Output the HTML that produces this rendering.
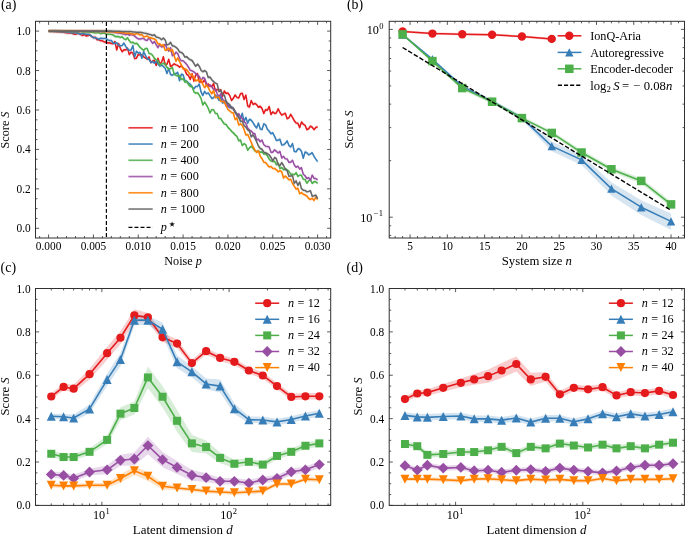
<!DOCTYPE html><html><head><meta charset="utf-8"><style>html,body{margin:0;padding:0;background:#fff;}svg{display:block;will-change:transform;}text{font-family:"Liberation Serif",serif;}</style></head><body><svg width="685" height="534" viewBox="0 0 685 534" font-family="Liberation Serif, serif" fill="#000">
<rect width="685" height="534" fill="#fff"/>
<polygon points="48.6,29.13 50.39,29.18 52.19,29.26 53.98,29.45 55.77,29.47 57.57,29.64 59.36,29.83 61.15,29.89 62.95,30.05 64.74,30.59 66.53,30.8 68.33,30.93 70.12,30.76 71.91,31.02 73.71,32.11 75.5,32.34 77.29,31.61 79.09,31.34 80.88,32.66 82.67,33.51 84.47,32.47 86.26,34.08 88.05,33.51 89.85,33.01 91.64,34.44 93.44,35.59 95.23,35.2 97.02,37.7 98.82,37.59 100.61,38.85 102.4,38.82 104.2,39.97 105.99,40.01 107.78,41.07 109.58,40.71 111.37,41.48 113.16,41.65 114.96,39.61 116.75,48.01 118.54,41.57 120.34,46.36 122.13,49.77 123.92,47.91 125.72,48.07 127.51,46.39 129.3,52.64 131.1,50.13 132.89,51.18 134.68,56.62 136.48,56.17 138.27,52.41 140.06,52.97 141.86,52.74 143.65,54.89 145.44,55.92 147.24,57.23 149.03,54.97 150.82,60.66 152.62,59.22 154.41,58.18 156.2,63.48 158,56.32 159.79,61.95 161.58,60.33 163.38,54.86 165.17,62.8 166.96,62.35 168.76,57.36 170.55,64.58 172.34,63.52 174.14,61.85 175.93,62.89 177.72,63.52 179.52,65.16 181.31,63.77 183.1,65.76 184.9,67.97 186.69,72.36 188.49,73.5 190.28,77.55 192.07,71.82 193.87,79.17 195.66,73.15 197.45,71.56 199.25,79.9 201.04,79.83 202.83,80.2 204.63,77.77 206.42,83.06 208.21,82.15 210.01,84.16 211.8,84.56 213.59,81.8 215.39,88.84 217.18,87.46 218.97,88.19 220.77,87.85 222.56,94.34 224.35,89.11 226.15,91.55 227.94,91.02 229.73,93.61 231.53,98.46 233.32,96.35 235.11,93 236.91,95.41 238.7,96.05 240.49,91.79 242.29,91.24 244.08,97.54 245.87,93.14 247.67,104 249.46,105.04 251.25,98.56 253.05,102.5 254.84,101.42 256.63,102.65 258.43,105.24 260.22,104.24 262.01,106.48 263.81,111.55 265.6,107.68 267.39,108.28 269.19,104.5 270.98,112.49 272.77,109.92 274.57,111.4 276.36,111.02 278.16,106.81 279.95,110.52 281.74,113.17 283.54,112.15 285.33,111.3 287.12,116.73 288.92,115.9 290.71,112.41 292.5,115.35 294.3,118.82 296.09,121.04 297.88,121.22 299.68,125.64 301.47,119.95 303.26,122.18 305.06,123.35 306.85,127.65 308.64,126.75 310.44,124.14 312.23,125.3 314.02,127.68 315.82,125.51 317.61,124.73 317.61,128.67 315.82,129.45 314.02,131.62 312.23,129.24 310.44,128.08 308.64,130.69 306.85,131.6 305.06,127.3 303.26,126.12 301.47,123.9 299.68,129.59 297.88,125.16 296.09,124.99 294.3,122.77 292.5,119.29 290.71,116.35 288.92,119.85 287.12,120.67 285.33,115.25 283.54,116.09 281.74,117.11 279.95,114.46 278.16,110.75 276.36,114.96 274.57,115.35 272.77,113.86 270.98,116.43 269.19,108.44 267.39,112.22 265.6,111.62 263.81,115.5 262.01,110.42 260.22,108.18 258.43,109.18 256.63,106.59 254.84,105.36 253.05,106.44 251.25,102.5 249.46,108.99 247.67,107.94 245.87,97.08 244.08,101.48 242.29,95.18 240.49,95.73 238.7,100 236.91,99.36 235.11,96.95 233.32,100.29 231.53,102.4 229.73,97.55 227.94,94.97 226.15,95.5 224.35,93.06 222.56,98.28 220.77,91.8 218.97,92.13 217.18,91.4 215.39,92.79 213.59,85.75 211.8,88.5 210.01,88.1 208.21,86.09 206.42,87 204.63,81.72 202.83,84.15 201.04,83.78 199.25,83.85 197.45,75.5 195.66,77.09 193.87,83.12 192.07,75.77 190.28,81.49 188.49,77.45 186.69,76.31 184.9,71.92 183.1,69.7 181.31,67.72 179.52,69.1 177.72,67.46 175.93,66.83 174.14,65.79 172.34,67.46 170.55,68.53 168.76,61.3 166.96,66.29 165.17,66.74 163.38,58.81 161.58,64.27 159.79,65.89 158,60.27 156.2,67.43 154.41,62.13 152.62,63.17 150.82,64.6 149.03,58.91 147.24,61.17 145.44,59.87 143.65,58.83 141.86,56.68 140.06,56.91 138.27,56.36 136.48,60.11 134.68,60.56 132.89,55.13 131.1,54.08 129.3,56.59 127.51,50.34 125.72,52.02 123.92,51.85 122.13,53.71 120.34,50.3 118.54,45.51 116.75,51.95 114.96,43.56 113.16,45.59 111.37,45.43 109.58,44.66 107.78,45.01 105.99,43.95 104.2,43.92 102.4,42.76 100.61,42.79 98.82,41.53 97.02,41.65 95.23,39.14 93.44,39.54 91.64,38.38 89.85,36.96 88.05,37.46 86.26,38.02 84.47,36.42 82.67,37.45 80.88,36.6 79.09,35.28 77.29,35.55 75.5,36.28 73.71,36.06 71.91,34.97 70.12,34.7 68.33,34.88 66.53,34.74 64.74,34.53 62.95,33.99 61.15,33.84 59.36,33.78 57.57,33.58 55.77,33.41 53.98,33.39 52.19,33.21 50.39,33.13 48.6,33.07" fill="#e41a1c" fill-opacity="0.13" stroke="none"/>
<polyline points="48.6,31.1 50.39,31.15 52.19,31.24 53.98,31.42 55.77,31.44 57.57,31.61 59.36,31.81 61.15,31.86 62.95,32.02 64.74,32.56 66.53,32.77 68.33,32.9 70.12,32.73 71.91,33 73.71,34.08 75.5,34.31 77.29,33.58 79.09,33.31 80.88,34.63 82.67,35.48 84.47,34.44 86.26,36.05 88.05,35.48 89.85,34.99 91.64,36.41 93.44,37.56 95.23,37.17 97.02,39.68 98.82,39.56 100.61,40.82 102.4,40.79 104.2,41.95 105.99,41.98 107.78,43.04 109.58,42.68 111.37,43.46 113.16,43.62 114.96,41.59 116.75,49.98 118.54,43.54 120.34,48.33 122.13,51.74 123.92,49.88 125.72,50.05 127.51,48.37 129.3,54.62 131.1,52.1 132.89,53.16 134.68,58.59 136.48,58.14 138.27,54.38 140.06,54.94 141.86,54.71 143.65,56.86 145.44,57.89 147.24,59.2 149.03,56.94 150.82,62.63 152.62,61.2 154.41,60.15 156.2,65.45 158,58.29 159.79,63.92 161.58,62.3 163.38,56.84 165.17,64.77 166.96,64.32 168.76,59.33 170.55,66.55 172.34,65.49 174.14,63.82 175.93,64.86 177.72,65.49 179.52,67.13 181.31,65.74 183.1,67.73 184.9,69.95 186.69,74.34 188.49,75.47 190.28,79.52 192.07,73.8 193.87,81.14 195.66,75.12 197.45,73.53 199.25,81.88 201.04,81.8 202.83,82.17 204.63,79.75 206.42,85.03 208.21,84.12 210.01,86.13 211.8,86.53 213.59,83.77 215.39,90.82 217.18,89.43 218.97,90.16 220.77,89.82 222.56,96.31 224.35,91.09 226.15,93.52 227.94,92.99 229.73,95.58 231.53,100.43 233.32,98.32 235.11,94.98 236.91,97.39 238.7,98.03 240.49,93.76 242.29,93.21 244.08,99.51 245.87,95.11 247.67,105.97 249.46,107.02 251.25,100.53 253.05,104.47 254.84,103.39 256.63,104.62 258.43,107.21 260.22,106.21 262.01,108.45 263.81,113.52 265.6,109.65 267.39,110.25 269.19,106.47 270.98,114.46 272.77,111.89 274.57,113.38 276.36,112.99 278.16,108.78 279.95,112.49 281.74,115.14 283.54,114.12 285.33,113.28 287.12,118.7 288.92,117.88 290.71,114.38 292.5,117.32 294.3,120.8 296.09,123.02 297.88,123.19 299.68,127.61 301.47,121.93 303.26,124.15 305.06,125.32 306.85,129.63 308.64,128.72 310.44,126.11 312.23,127.27 314.02,129.65 315.82,127.48 317.61,126.7" fill="none" stroke="#e41a1c" stroke-width="1.55" stroke-linejoin="round"/>
<polygon points="48.6,29.13 50.39,29.16 52.19,29.2 53.98,29.31 55.77,29.32 57.57,29.54 59.36,29.56 61.15,29.7 62.95,29.93 64.74,29.64 66.53,30.24 68.33,30.19 70.12,30.2 71.91,30.97 73.71,30.41 75.5,31.05 77.29,30.82 79.09,31.78 80.88,32.1 82.67,31.29 84.47,31.89 86.26,32.37 88.05,32.35 89.85,32.73 91.64,34.36 93.44,35.69 95.23,35.76 97.02,36.39 98.82,37.39 100.61,36.23 102.4,36.59 104.2,36.46 105.99,36.59 107.78,37.98 109.58,38.39 111.37,38.5 113.16,41.15 114.96,41.47 116.75,40.77 118.54,43.19 120.34,43.86 122.13,43.62 123.92,41.09 125.72,44.39 127.51,46.83 129.3,48.3 131.1,48.07 132.89,43.51 134.68,54.87 136.48,49.37 138.27,51.08 140.06,50.59 141.86,56.38 143.65,49.69 145.44,53.35 147.24,56.87 149.03,57.38 150.82,60.46 152.62,59.65 154.41,61.11 156.2,59.55 158,61.95 159.79,64 161.58,63.22 163.38,64.52 165.17,66.31 166.96,71.47 168.76,66.42 170.55,72.61 172.34,73.23 174.14,72.08 175.93,71.59 177.72,70.45 179.52,78.75 181.31,72.25 183.1,72.85 184.9,78.8 186.69,79.19 188.49,81.08 190.28,82.18 192.07,84.99 193.87,86.93 195.66,84.53 197.45,84.6 199.25,82.04 201.04,89.88 202.83,93.59 204.63,89.38 206.42,91.87 208.21,90.91 210.01,93.61 211.8,96.47 213.59,95.84 215.39,92.98 217.18,94.88 218.97,98.48 220.77,94.83 222.56,101.1 224.35,99.85 226.15,99.22 227.94,104.36 229.73,105.67 231.53,104.73 233.32,107.01 235.11,109.53 236.91,112.38 238.7,115.68 240.49,116.79 242.29,111.37 244.08,119.4 245.87,115.36 247.67,121.16 249.46,117.26 251.25,118.22 253.05,120.65 254.84,123.78 256.63,126.06 258.43,121.08 260.22,127.01 262.01,127.67 263.81,121.82 265.6,122.88 267.39,127.35 269.19,129.31 270.98,131.72 272.77,130.83 274.57,134.38 276.36,138.41 278.16,138.2 279.95,137.3 281.74,143.05 283.54,142.86 285.33,141.42 287.12,138.86 288.92,143.55 290.71,144.98 292.5,141.53 294.3,149.61 296.09,149.76 297.88,146.89 299.68,147.12 301.47,149.3 303.26,156.29 305.06,150 306.85,150.81 308.64,152.89 310.44,151.98 312.23,150.75 314.02,154.43 315.82,157.19 317.61,159.69 317.61,163.63 315.82,161.13 314.02,158.37 312.23,154.69 310.44,155.93 308.64,156.83 306.85,154.76 305.06,153.95 303.26,160.23 301.47,153.25 299.68,151.06 297.88,150.83 296.09,153.7 294.3,153.55 292.5,145.47 290.71,148.93 288.92,147.5 287.12,142.8 285.33,145.36 283.54,146.81 281.74,147 279.95,141.25 278.16,142.14 276.36,142.35 274.57,138.33 272.77,134.78 270.98,135.66 269.19,133.25 267.39,131.3 265.6,126.82 263.81,125.77 262.01,131.61 260.22,130.95 258.43,125.02 256.63,130.01 254.84,127.72 253.05,124.59 251.25,122.16 249.46,121.2 247.67,125.1 245.87,119.31 244.08,123.35 242.29,115.32 240.49,120.73 238.7,119.62 236.91,116.33 235.11,113.48 233.32,110.95 231.53,108.67 229.73,109.61 227.94,108.3 226.15,103.16 224.35,103.8 222.56,105.05 220.77,98.77 218.97,102.42 217.18,98.82 215.39,96.92 213.59,99.79 211.8,100.41 210.01,97.56 208.21,94.86 206.42,95.82 204.63,93.32 202.83,97.53 201.04,93.82 199.25,85.98 197.45,88.55 195.66,88.48 193.87,90.87 192.07,88.93 190.28,86.12 188.49,85.02 186.69,83.13 184.9,82.74 183.1,76.79 181.31,76.2 179.52,82.69 177.72,74.39 175.93,75.54 174.14,76.02 172.34,77.18 170.55,76.56 168.76,70.36 166.96,75.41 165.17,70.26 163.38,68.46 161.58,67.16 159.79,67.95 158,65.89 156.2,63.49 154.41,65.06 152.62,63.59 150.82,64.4 149.03,61.33 147.24,60.81 145.44,57.3 143.65,53.64 141.86,60.33 140.06,54.54 138.27,55.03 136.48,53.32 134.68,58.82 132.89,47.46 131.1,52.02 129.3,52.25 127.51,50.78 125.72,48.33 123.92,45.04 122.13,47.57 120.34,47.8 118.54,47.13 116.75,44.71 114.96,45.41 113.16,45.09 111.37,42.44 109.58,42.33 107.78,41.92 105.99,40.54 104.2,40.41 102.4,40.53 100.61,40.17 98.82,41.34 97.02,40.34 95.23,39.7 93.44,39.64 91.64,38.3 89.85,36.67 88.05,36.3 86.26,36.32 84.47,35.83 82.67,35.23 80.88,36.04 79.09,35.72 77.29,34.76 75.5,34.99 73.71,34.36 71.91,34.92 70.12,34.15 68.33,34.14 66.53,34.18 64.74,33.58 62.95,33.87 61.15,33.64 59.36,33.51 57.57,33.48 55.77,33.27 53.98,33.26 52.19,33.15 50.39,33.1 48.6,33.07" fill="#377eb8" fill-opacity="0.13" stroke="none"/>
<polyline points="48.6,31.1 50.39,31.13 52.19,31.17 53.98,31.29 55.77,31.29 57.57,31.51 59.36,31.53 61.15,31.67 62.95,31.9 64.74,31.61 66.53,32.21 68.33,32.17 70.12,32.17 71.91,32.95 73.71,32.39 75.5,33.02 77.29,32.79 79.09,33.75 80.88,34.07 82.67,33.26 84.47,33.86 86.26,34.35 88.05,34.32 89.85,34.7 91.64,36.33 93.44,37.66 95.23,37.73 97.02,38.37 98.82,39.36 100.61,38.2 102.4,38.56 104.2,38.43 105.99,38.56 107.78,39.95 109.58,40.36 111.37,40.47 113.16,43.12 114.96,43.44 116.75,42.74 118.54,45.16 120.34,45.83 122.13,45.6 123.92,43.06 125.72,46.36 127.51,48.8 129.3,50.28 131.1,50.05 132.89,45.48 134.68,56.84 136.48,51.34 138.27,53.06 140.06,52.56 141.86,58.36 143.65,51.66 145.44,55.33 147.24,58.84 149.03,59.36 150.82,62.43 152.62,61.62 154.41,63.09 156.2,61.52 158,63.92 159.79,65.98 161.58,65.19 163.38,66.49 165.17,68.29 166.96,73.44 168.76,68.39 170.55,74.59 172.34,75.21 174.14,74.05 175.93,73.57 177.72,72.42 179.52,80.72 181.31,74.23 183.1,74.82 184.9,80.77 186.69,81.16 188.49,83.05 190.28,84.15 192.07,86.96 193.87,88.9 195.66,86.51 197.45,86.58 199.25,84.01 201.04,91.85 202.83,95.56 204.63,91.35 206.42,93.84 208.21,92.88 210.01,95.58 211.8,98.44 213.59,97.81 215.39,94.95 217.18,96.85 218.97,100.45 220.77,96.8 222.56,103.07 224.35,101.83 226.15,101.19 227.94,106.33 229.73,107.64 231.53,106.7 233.32,108.98 235.11,111.5 236.91,114.35 238.7,117.65 240.49,118.76 242.29,113.35 244.08,121.38 245.87,117.34 247.67,123.13 249.46,119.23 251.25,120.19 253.05,122.62 254.84,125.75 256.63,128.03 258.43,123.05 260.22,128.98 262.01,129.64 263.81,123.8 265.6,124.85 267.39,129.33 269.19,131.28 270.98,133.69 272.77,132.8 274.57,136.35 276.36,140.38 278.16,140.17 279.95,139.28 281.74,145.03 283.54,144.84 285.33,143.39 287.12,140.83 288.92,145.53 290.71,146.96 292.5,143.5 294.3,151.58 296.09,151.73 297.88,148.86 299.68,149.09 301.47,151.28 303.26,158.26 305.06,151.98 306.85,152.78 308.64,154.86 310.44,153.95 312.23,152.72 314.02,156.4 315.82,159.16 317.61,161.66" fill="none" stroke="#377eb8" stroke-width="1.55" stroke-linejoin="round"/>
<polygon points="48.6,29.13 50.39,29.13 52.19,29.14 53.98,29.15 55.77,29.15 57.57,29.17 59.36,29.19 61.15,29.21 62.95,29.23 64.74,29.3 66.53,29.33 68.33,29.38 70.12,29.36 71.91,29.43 73.71,29.42 75.5,29.49 77.29,29.54 79.09,29.46 80.88,29.63 82.67,29.75 84.47,29.94 86.26,29.82 88.05,29.94 89.85,30.35 91.64,30.36 93.44,30.44 95.23,30.98 97.02,30.88 98.82,30.65 100.61,31.64 102.4,31.25 104.2,30.98 105.99,32.06 107.78,32.26 109.58,32.29 111.37,32.49 113.16,32.94 114.96,34.54 116.75,34.65 118.54,34.61 120.34,35.54 122.13,34.86 123.92,36.88 125.72,37.65 127.51,35.75 129.3,38.79 131.1,40.83 132.89,40.36 134.68,41.75 136.48,41.21 138.27,42.85 140.06,45.49 141.86,46.88 143.65,48.46 145.44,46.46 147.24,46.61 149.03,51.6 150.82,51.77 152.62,53.43 154.41,56.29 156.2,57.64 158,58.92 159.79,62.84 161.58,62.15 163.38,61.39 165.17,61.96 166.96,65.36 168.76,67.07 170.55,66.67 172.34,65.54 174.14,72.2 175.93,73.28 177.72,74.04 179.52,73.66 181.31,77.55 183.1,76.64 184.9,80.23 186.69,79.5 188.49,82.67 190.28,84.58 192.07,84.23 193.87,89.81 195.66,91.24 197.45,90.84 199.25,93.09 201.04,96.42 202.83,103 204.63,100.1 206.42,102.95 208.21,106.22 210.01,110.96 211.8,107.76 213.59,107.74 215.39,111.49 217.18,111.51 218.97,116.51 220.77,116.51 222.56,119.55 224.35,122.02 226.15,122.41 227.94,125.36 229.73,127.14 231.53,129.35 233.32,130.92 235.11,132.9 236.91,134.32 238.7,138.83 240.49,137.99 242.29,143.54 244.08,141.75 245.87,142.99 247.67,148.18 249.46,145.91 251.25,144.31 253.05,146.33 254.84,148.84 256.63,149.75 258.43,149.09 260.22,150.19 262.01,149.91 263.81,152.08 265.6,151.81 267.39,153.88 269.19,157.21 270.98,158.98 272.77,159.47 274.57,159.19 276.36,162.82 278.16,161.03 279.95,166.62 281.74,165.56 283.54,167.84 285.33,166.63 287.12,167.91 288.92,169.33 290.71,172.14 292.5,172.37 294.3,172.81 296.09,170.7 297.88,174.42 299.68,173.21 301.47,173.3 303.26,177.25 305.06,177.47 306.85,181.26 308.64,178.86 310.44,177.66 312.23,181.38 314.02,179.84 315.82,179.82 317.61,181.32 317.61,185.26 315.82,183.76 314.02,183.78 312.23,185.33 310.44,181.61 308.64,182.81 306.85,185.21 305.06,181.42 303.26,181.19 301.47,177.24 299.68,177.16 297.88,178.37 296.09,174.64 294.3,176.75 292.5,176.31 290.71,176.08 288.92,173.28 287.12,171.85 285.33,170.58 283.54,171.78 281.74,169.5 279.95,170.57 278.16,164.97 276.36,166.76 274.57,163.13 272.77,163.42 270.98,162.93 269.19,161.15 267.39,157.82 265.6,155.75 263.81,156.03 262.01,153.86 260.22,154.13 258.43,153.03 256.63,153.7 254.84,152.79 253.05,150.27 251.25,148.26 249.46,149.86 247.67,152.13 245.87,146.94 244.08,145.69 242.29,147.48 240.49,141.93 238.7,142.77 236.91,138.26 235.11,136.85 233.32,134.86 231.53,133.29 229.73,131.08 227.94,129.3 226.15,126.36 224.35,125.96 222.56,123.49 220.77,120.46 218.97,120.46 217.18,115.45 215.39,115.44 213.59,111.69 211.8,111.7 210.01,114.9 208.21,110.16 206.42,106.89 204.63,104.05 202.83,106.94 201.04,100.37 199.25,97.04 197.45,94.78 195.66,95.18 193.87,93.76 192.07,88.18 190.28,88.52 188.49,86.62 186.69,83.44 184.9,84.18 183.1,80.58 181.31,81.49 179.52,77.6 177.72,77.98 175.93,77.22 174.14,76.14 172.34,69.49 170.55,70.61 168.76,71.01 166.96,69.31 165.17,65.9 163.38,65.34 161.58,66.1 159.79,66.79 158,62.86 156.2,61.58 154.41,60.23 152.62,57.37 150.82,55.72 149.03,55.54 147.24,50.56 145.44,50.41 143.65,52.41 141.86,50.83 140.06,49.44 138.27,46.8 136.48,45.15 134.68,45.69 132.89,44.3 131.1,44.77 129.3,42.74 127.51,39.7 125.72,41.59 123.92,40.83 122.13,38.8 120.34,39.48 118.54,38.55 116.75,38.59 114.96,38.48 113.16,36.89 111.37,36.44 109.58,36.23 107.78,36.2 105.99,36 104.2,34.92 102.4,35.19 100.61,35.59 98.82,34.59 97.02,34.83 95.23,34.93 93.44,34.38 91.64,34.3 89.85,34.29 88.05,33.89 86.26,33.76 84.47,33.88 82.67,33.7 80.88,33.57 79.09,33.41 77.29,33.48 75.5,33.43 73.71,33.36 71.91,33.37 70.12,33.31 68.33,33.33 66.53,33.27 64.74,33.24 62.95,33.17 61.15,33.16 59.36,33.13 57.57,33.12 55.77,33.1 53.98,33.09 52.19,33.08 50.39,33.07 48.6,33.07" fill="#4daf4a" fill-opacity="0.13" stroke="none"/>
<polyline points="48.6,31.1 50.39,31.1 52.19,31.11 53.98,31.12 55.77,31.13 57.57,31.15 59.36,31.16 61.15,31.18 62.95,31.2 64.74,31.27 66.53,31.3 68.33,31.35 70.12,31.33 71.91,31.4 73.71,31.39 75.5,31.46 77.29,31.51 79.09,31.44 80.88,31.6 82.67,31.72 84.47,31.91 86.26,31.79 88.05,31.92 89.85,32.32 91.64,32.33 93.44,32.41 95.23,32.95 97.02,32.85 98.82,32.62 100.61,33.62 102.4,33.22 104.2,32.95 105.99,34.03 107.78,34.23 109.58,34.26 111.37,34.46 113.16,34.91 114.96,36.51 116.75,36.62 118.54,36.58 120.34,37.51 122.13,36.83 123.92,38.85 125.72,39.62 127.51,37.72 129.3,40.77 131.1,42.8 132.89,42.33 134.68,43.72 136.48,43.18 138.27,44.82 140.06,47.47 141.86,48.85 143.65,50.44 145.44,48.43 147.24,48.58 149.03,53.57 150.82,53.74 152.62,55.4 154.41,58.26 156.2,59.61 158,60.89 159.79,64.82 161.58,64.12 163.38,63.36 165.17,63.93 166.96,67.34 168.76,69.04 170.55,68.64 172.34,67.51 174.14,74.17 175.93,75.25 177.72,76.01 179.52,75.63 181.31,79.52 183.1,78.61 184.9,82.2 186.69,81.47 188.49,84.65 190.28,86.55 192.07,86.2 193.87,91.79 195.66,93.21 197.45,92.81 199.25,95.06 201.04,98.39 202.83,104.97 204.63,102.08 206.42,104.92 208.21,108.19 210.01,112.93 211.8,109.73 213.59,109.72 215.39,113.47 217.18,113.48 218.97,118.48 220.77,118.48 222.56,121.52 224.35,123.99 226.15,124.39 227.94,127.33 229.73,129.11 231.53,131.32 233.32,132.89 235.11,134.88 236.91,136.29 238.7,140.8 240.49,139.96 242.29,145.51 244.08,143.72 245.87,144.97 247.67,150.15 249.46,147.88 251.25,146.29 253.05,148.3 254.84,150.81 256.63,151.73 258.43,151.06 260.22,152.16 262.01,151.88 263.81,154.06 265.6,153.78 267.39,155.85 269.19,159.18 270.98,160.95 272.77,161.45 274.57,161.16 276.36,164.79 278.16,163 279.95,168.59 281.74,167.53 283.54,169.81 285.33,168.61 287.12,169.88 288.92,171.31 290.71,174.11 292.5,174.34 294.3,174.78 296.09,172.67 297.88,176.39 299.68,175.18 301.47,175.27 303.26,179.22 305.06,179.44 306.85,183.23 308.64,180.84 310.44,179.64 312.23,183.35 314.02,181.81 315.82,181.79 317.61,183.29" fill="none" stroke="#4daf4a" stroke-width="1.55" stroke-linejoin="round"/>
<polygon points="48.6,29.13 50.39,29.13 52.19,29.13 53.98,29.13 55.77,29.13 57.57,29.13 59.36,29.13 61.15,29.13 62.95,29.13 64.74,29.13 66.53,29.13 68.33,29.13 70.12,29.13 71.91,29.13 73.71,29.13 75.5,29.13 77.29,29.13 79.09,29.13 80.88,29.14 82.67,29.15 84.47,29.16 86.26,29.17 88.05,29.18 89.85,29.2 91.64,29.24 93.44,29.28 95.23,29.27 97.02,29.3 98.82,29.35 100.61,29.39 102.4,29.48 104.2,29.48 105.99,29.44 107.78,29.63 109.58,29.73 111.37,29.87 113.16,30.11 114.96,30.62 116.75,30.71 118.54,31.07 120.34,31.36 122.13,31.76 123.92,31.99 125.72,32.81 127.51,31.92 129.3,33.29 131.1,32.63 132.89,32.94 134.68,34.21 136.48,35.63 138.27,36.97 140.06,37.02 141.86,36.47 143.65,36.55 145.44,38.13 147.24,38.46 149.03,35.68 150.82,38.71 152.62,41.47 154.41,39.54 156.2,42.76 158,45.75 159.79,42.52 161.58,45.05 163.38,44.48 165.17,42.34 166.96,46.37 168.76,49.1 170.55,45.77 172.34,53.67 174.14,53.32 175.93,50.22 177.72,51.55 179.52,56.38 181.31,58.86 183.1,58.73 184.9,60.46 186.69,62.44 188.49,65.25 190.28,68.32 192.07,68.88 193.87,69.92 195.66,71.49 197.45,73.54 199.25,74.2 201.04,78.73 202.83,75.55 204.63,76.34 206.42,81.5 208.21,84.54 210.01,83.18 211.8,84.57 213.59,87.54 215.39,87.32 217.18,91.85 218.97,94.67 220.77,91.89 222.56,97.31 224.35,99.08 226.15,104.06 227.94,102.75 229.73,105.08 231.53,105.93 233.32,106.59 235.11,109.4 236.91,113.74 238.7,111.75 240.49,114.91 242.29,116.53 244.08,119.6 245.87,121.29 247.67,125.97 249.46,128.36 251.25,128.99 253.05,131.23 254.84,131.76 256.63,138.1 258.43,137.35 260.22,139.76 262.01,138.14 263.81,142.77 265.6,144.19 267.39,144.46 269.19,144.98 270.98,150.4 272.77,150.2 274.57,147.88 276.36,149.48 278.16,151.07 279.95,149.46 281.74,156.09 283.54,154.42 285.33,156.87 287.12,156.99 288.92,160.4 290.71,160.3 292.5,158.34 294.3,162.98 296.09,165.24 297.88,164.23 299.68,167.2 301.47,165.71 303.26,172.25 305.06,173.76 306.85,176.55 308.64,175.6 310.44,178.34 312.23,173.14 314.02,176.47 315.82,176.52 317.61,177.9 317.61,181.84 315.82,180.47 314.02,180.42 312.23,177.08 310.44,182.28 308.64,179.55 306.85,180.49 305.06,177.7 303.26,176.2 301.47,169.65 299.68,171.15 297.88,168.17 296.09,169.18 294.3,166.92 292.5,162.29 290.71,164.24 288.92,164.35 287.12,160.94 285.33,160.81 283.54,158.37 281.74,160.04 279.95,153.4 278.16,155.01 276.36,153.42 274.57,151.83 272.77,154.14 270.98,154.35 269.19,148.92 267.39,148.41 265.6,148.13 263.81,146.71 262.01,142.09 260.22,143.71 258.43,141.29 256.63,142.04 254.84,135.7 253.05,135.18 251.25,132.93 249.46,132.3 247.67,129.91 245.87,125.23 244.08,123.55 242.29,120.48 240.49,118.85 238.7,115.69 236.91,117.68 235.11,113.35 233.32,110.54 231.53,109.88 229.73,109.03 227.94,106.69 226.15,108.01 224.35,103.02 222.56,101.25 220.77,95.84 218.97,98.62 217.18,95.79 215.39,91.26 213.59,91.48 211.8,88.52 210.01,87.12 208.21,88.49 206.42,85.44 204.63,80.28 202.83,79.49 201.04,82.67 199.25,78.14 197.45,77.48 195.66,75.43 193.87,73.86 192.07,72.82 190.28,72.26 188.49,69.19 186.69,66.39 184.9,64.41 183.1,62.67 181.31,62.81 179.52,60.32 177.72,55.5 175.93,54.16 174.14,57.27 172.34,57.62 170.55,49.72 168.76,53.04 166.96,50.31 165.17,46.29 163.38,48.43 161.58,48.99 159.79,46.46 158,49.69 156.2,46.71 154.41,43.48 152.62,45.41 150.82,42.65 149.03,39.63 147.24,42.4 145.44,42.08 143.65,40.5 141.86,40.41 140.06,40.97 138.27,40.91 136.48,39.57 134.68,38.15 132.89,36.89 131.1,36.57 129.3,37.24 127.51,35.87 125.72,36.75 123.92,35.94 122.13,35.7 120.34,35.3 118.54,35.01 116.75,34.66 114.96,34.56 113.16,34.06 111.37,33.82 109.58,33.67 107.78,33.57 105.99,33.39 104.2,33.42 102.4,33.43 100.61,33.33 98.82,33.3 97.02,33.24 95.23,33.21 93.44,33.22 91.64,33.19 89.85,33.14 88.05,33.13 86.26,33.11 84.47,33.11 82.67,33.1 80.88,33.08 79.09,33.08 77.29,33.07 75.5,33.07 73.71,33.07 71.91,33.07 70.12,33.07 68.33,33.07 66.53,33.07 64.74,33.07 62.95,33.07 61.15,33.07 59.36,33.07 57.57,33.07 55.77,33.07 53.98,33.07 52.19,33.07 50.39,33.07 48.6,33.07" fill="#984ea3" fill-opacity="0.13" stroke="none"/>
<polyline points="48.6,31.1 50.39,31.1 52.19,31.1 53.98,31.1 55.77,31.1 57.57,31.1 59.36,31.1 61.15,31.1 62.95,31.1 64.74,31.1 66.53,31.1 68.33,31.1 70.12,31.1 71.91,31.1 73.71,31.1 75.5,31.1 77.29,31.1 79.09,31.1 80.88,31.11 82.67,31.12 84.47,31.14 86.26,31.14 88.05,31.15 89.85,31.17 91.64,31.21 93.44,31.25 95.23,31.24 97.02,31.27 98.82,31.32 100.61,31.36 102.4,31.45 104.2,31.45 105.99,31.41 107.78,31.6 109.58,31.7 111.37,31.84 113.16,32.08 114.96,32.59 116.75,32.68 118.54,33.04 120.34,33.33 122.13,33.73 123.92,33.97 125.72,34.78 127.51,33.89 129.3,35.27 131.1,34.6 132.89,34.91 134.68,36.18 136.48,37.6 138.27,38.94 140.06,39 141.86,38.44 143.65,38.52 145.44,40.1 147.24,40.43 149.03,37.65 150.82,40.68 152.62,43.44 154.41,41.51 156.2,44.74 158,47.72 159.79,44.49 161.58,47.02 163.38,46.46 165.17,44.31 166.96,48.34 168.76,51.07 170.55,47.75 172.34,55.65 174.14,55.29 175.93,52.19 177.72,53.53 179.52,58.35 181.31,60.83 183.1,60.7 184.9,62.44 186.69,64.41 188.49,67.22 190.28,70.29 192.07,70.85 193.87,71.89 195.66,73.46 197.45,75.51 199.25,76.17 201.04,80.7 202.83,77.52 204.63,78.31 206.42,83.47 208.21,86.52 210.01,85.15 211.8,86.54 213.59,89.51 215.39,89.29 217.18,93.82 218.97,96.64 220.77,93.86 222.56,99.28 224.35,101.05 226.15,106.04 227.94,104.72 229.73,107.06 231.53,107.9 233.32,108.57 235.11,111.37 236.91,115.71 238.7,113.72 240.49,116.88 242.29,118.5 244.08,121.57 245.87,123.26 247.67,127.94 249.46,130.33 251.25,130.96 253.05,133.21 254.84,133.73 256.63,140.07 258.43,139.32 260.22,141.73 262.01,140.12 263.81,144.74 265.6,146.16 267.39,146.44 269.19,146.95 270.98,152.37 272.77,152.17 274.57,149.85 276.36,151.45 278.16,153.04 279.95,151.43 281.74,158.07 283.54,156.4 285.33,158.84 287.12,158.97 288.92,162.37 290.71,162.27 292.5,160.31 294.3,164.95 296.09,167.21 297.88,166.2 299.68,169.18 301.47,167.68 303.26,174.22 305.06,175.73 306.85,178.52 308.64,177.57 310.44,180.31 312.23,175.11 314.02,178.44 315.82,178.49 317.61,179.87" fill="none" stroke="#984ea3" stroke-width="1.55" stroke-linejoin="round"/>
<polygon points="48.6,29.13 50.39,29.13 52.19,29.13 53.98,29.13 55.77,29.13 57.57,29.13 59.36,29.13 61.15,29.13 62.95,29.13 64.74,29.13 66.53,29.13 68.33,29.13 70.12,29.13 71.91,29.13 73.71,29.13 75.5,29.13 77.29,29.13 79.09,29.13 80.88,29.14 82.67,29.15 84.47,29.16 86.26,29.18 88.05,29.19 89.85,29.23 91.64,29.24 93.44,29.3 95.23,29.32 97.02,29.29 98.82,29.31 100.61,29.35 102.4,29.51 104.2,29.54 105.99,29.59 107.78,29.66 109.58,29.61 111.37,29.76 113.16,29.82 114.96,30 116.75,30.19 118.54,29.94 120.34,30.31 122.13,30.79 123.92,30.51 125.72,31.15 127.51,31.27 129.3,30.97 131.1,31.89 132.89,31.97 134.68,32.28 136.48,31.68 138.27,31.81 140.06,33.04 141.86,32.43 143.65,34.89 145.44,34.6 147.24,33.95 149.03,35.73 150.82,35.79 152.62,36.62 154.41,36.94 156.2,38.41 158,42 159.79,41.7 161.58,43.69 163.38,42.72 165.17,48.28 166.96,48.14 168.76,46.08 170.55,49.08 172.34,47.52 174.14,53.42 175.93,59.34 177.72,55.88 179.52,59.58 181.31,62.85 183.1,66.88 184.9,67.06 186.69,67.78 188.49,70.2 190.28,72.42 192.07,73.11 193.87,75.41 195.66,79 197.45,78.04 199.25,79.01 201.04,77.8 202.83,82.47 204.63,85.76 206.42,83.19 208.21,85.38 210.01,89.17 211.8,91.82 213.59,88.41 215.39,95.66 217.18,95.29 218.97,95.23 220.77,99.25 222.56,99.47 224.35,100.13 226.15,103.76 227.94,107.56 229.73,108.8 231.53,110.49 233.32,110.99 235.11,117.63 236.91,115.96 238.7,123.05 240.49,121.9 242.29,123.34 244.08,127.64 245.87,132.95 247.67,132.46 249.46,136.28 251.25,140.45 253.05,144.6 254.84,147.91 256.63,150.29 258.43,148.86 260.22,154.34 262.01,156.73 263.81,160.3 265.6,160.49 267.39,162.95 269.19,164.94 270.98,164.58 272.77,166.57 274.57,166.45 276.36,167.81 278.16,169.84 279.95,168.71 281.74,169.76 283.54,176 285.33,174.09 287.12,175.76 288.92,177.88 290.71,177.24 292.5,181.46 294.3,184.4 296.09,186.96 297.88,186.21 299.68,191.69 301.47,190.59 303.26,192.32 305.06,193.07 306.85,194.01 308.64,196.55 310.44,197.47 312.23,196.33 314.02,198.48 315.82,195.1 317.61,197.53 317.61,201.48 315.82,199.05 314.02,202.42 312.23,200.27 310.44,201.42 308.64,200.5 306.85,197.95 305.06,197.02 303.26,196.26 301.47,194.54 299.68,195.63 297.88,190.16 296.09,190.9 294.3,188.35 292.5,185.41 290.71,181.19 288.92,181.82 287.12,179.71 285.33,178.03 283.54,179.95 281.74,173.7 279.95,172.66 278.16,173.78 276.36,171.75 274.57,170.39 272.77,170.52 270.98,168.53 269.19,168.88 267.39,166.9 265.6,164.43 263.81,164.25 262.01,160.67 260.22,158.28 258.43,152.8 256.63,154.24 254.84,151.85 253.05,148.55 251.25,144.39 249.46,140.23 247.67,136.4 245.87,136.9 244.08,131.58 242.29,127.28 240.49,125.85 238.7,127 236.91,119.9 235.11,121.57 233.32,114.93 231.53,114.43 229.73,112.75 227.94,111.51 226.15,107.7 224.35,104.07 222.56,103.42 220.77,103.2 218.97,99.18 217.18,99.23 215.39,99.6 213.59,92.35 211.8,95.76 210.01,93.11 208.21,89.32 206.42,87.14 204.63,89.71 202.83,86.41 201.04,81.74 199.25,82.95 197.45,81.99 195.66,82.94 193.87,79.35 192.07,77.05 190.28,76.36 188.49,74.14 186.69,71.73 184.9,71.01 183.1,70.83 181.31,66.79 179.52,63.52 177.72,59.83 175.93,63.29 174.14,57.36 172.34,51.47 170.55,53.02 168.76,50.02 166.96,52.09 165.17,52.22 163.38,46.67 161.58,47.63 159.79,45.65 158,45.95 156.2,42.35 154.41,40.88 152.62,40.56 150.82,39.73 149.03,39.67 147.24,37.9 145.44,38.54 143.65,38.84 141.86,36.37 140.06,36.98 138.27,35.76 136.48,35.62 134.68,36.22 132.89,35.92 131.1,35.84 129.3,34.92 127.51,35.21 125.72,35.1 123.92,34.46 122.13,34.74 120.34,34.25 118.54,33.88 116.75,34.14 114.96,33.95 113.16,33.77 111.37,33.7 109.58,33.56 107.78,33.6 105.99,33.53 104.2,33.48 102.4,33.45 100.61,33.29 98.82,33.26 97.02,33.23 95.23,33.27 93.44,33.25 91.64,33.18 89.85,33.17 88.05,33.14 86.26,33.13 84.47,33.11 82.67,33.09 80.88,33.08 79.09,33.07 77.29,33.07 75.5,33.07 73.71,33.07 71.91,33.07 70.12,33.07 68.33,33.07 66.53,33.07 64.74,33.07 62.95,33.07 61.15,33.07 59.36,33.07 57.57,33.07 55.77,33.07 53.98,33.07 52.19,33.07 50.39,33.07 48.6,33.07" fill="#ff7f00" fill-opacity="0.13" stroke="none"/>
<polyline points="48.6,31.1 50.39,31.1 52.19,31.1 53.98,31.1 55.77,31.1 57.57,31.1 59.36,31.1 61.15,31.1 62.95,31.1 64.74,31.1 66.53,31.1 68.33,31.1 70.12,31.1 71.91,31.1 73.71,31.1 75.5,31.1 77.29,31.1 79.09,31.1 80.88,31.11 82.67,31.12 84.47,31.13 86.26,31.16 88.05,31.17 89.85,31.2 91.64,31.21 93.44,31.27 95.23,31.29 97.02,31.26 98.82,31.29 100.61,31.32 102.4,31.48 104.2,31.51 105.99,31.56 107.78,31.63 109.58,31.59 111.37,31.73 113.16,31.8 114.96,31.98 116.75,32.17 118.54,31.91 120.34,32.28 122.13,32.76 123.92,32.49 125.72,33.12 127.51,33.24 129.3,32.94 131.1,33.87 132.89,33.94 134.68,34.25 136.48,33.65 138.27,33.79 140.06,35.01 141.86,34.4 143.65,36.86 145.44,36.57 147.24,35.93 149.03,37.7 150.82,37.76 152.62,38.59 154.41,38.91 156.2,40.38 158,43.98 159.79,43.67 161.58,45.66 163.38,44.69 165.17,50.25 166.96,50.11 168.76,48.05 170.55,51.05 172.34,49.5 174.14,55.39 175.93,61.32 177.72,57.85 179.52,61.55 181.31,64.82 183.1,68.85 184.9,69.03 186.69,69.75 188.49,72.17 190.28,74.39 192.07,75.08 193.87,77.38 195.66,80.97 197.45,80.01 199.25,80.98 201.04,79.77 202.83,84.44 204.63,87.73 206.42,85.17 208.21,87.35 210.01,91.14 211.8,93.79 213.59,90.38 215.39,97.63 217.18,97.26 218.97,97.21 220.77,101.23 222.56,101.44 224.35,102.1 226.15,105.73 227.94,109.53 229.73,110.77 231.53,112.46 233.32,112.96 235.11,119.6 236.91,117.93 238.7,125.02 240.49,123.88 242.29,125.31 244.08,129.61 245.87,134.93 247.67,134.43 249.46,138.26 251.25,142.42 253.05,146.57 254.84,149.88 256.63,152.27 258.43,150.83 260.22,156.31 262.01,158.7 263.81,162.27 265.6,162.46 267.39,164.92 269.19,166.91 270.98,166.56 272.77,168.55 274.57,168.42 276.36,169.78 278.16,171.81 279.95,170.69 281.74,171.73 283.54,177.97 285.33,176.06 287.12,177.73 288.92,179.85 290.71,179.22 292.5,183.43 294.3,186.38 296.09,188.93 297.88,188.19 299.68,193.66 301.47,192.57 303.26,194.29 305.06,195.04 306.85,195.98 308.64,198.52 310.44,199.44 312.23,198.3 314.02,200.45 315.82,197.07 317.61,199.5" fill="none" stroke="#ff7f00" stroke-width="1.55" stroke-linejoin="round"/>
<polygon points="48.6,29.13 50.39,29.13 52.19,29.13 53.98,29.13 55.77,29.13 57.57,29.13 59.36,29.13 61.15,29.13 62.95,29.13 64.74,29.13 66.53,29.13 68.33,29.13 70.12,29.13 71.91,29.13 73.71,29.13 75.5,29.13 77.29,29.13 79.09,29.13 80.88,29.13 82.67,29.13 84.47,29.13 86.26,29.13 88.05,29.13 89.85,29.13 91.64,29.13 93.44,29.13 95.23,29.13 97.02,29.13 98.82,29.13 100.61,29.13 102.4,29.13 104.2,29.13 105.99,29.13 107.78,29.13 109.58,29.14 111.37,29.16 113.16,29.18 114.96,29.23 116.75,29.28 118.54,29.32 120.34,29.38 122.13,29.45 123.92,29.54 125.72,29.51 127.51,29.58 129.3,29.57 131.1,29.63 132.89,29.96 134.68,29.97 136.48,30.24 138.27,30.39 140.06,30.26 141.86,30.54 143.65,31.11 145.44,31.23 147.24,31.67 149.03,32.35 150.82,32.77 152.62,33.54 154.41,32.78 156.2,35.07 158,35.5 159.79,36.16 161.58,37.76 163.38,35.98 165.17,38.07 166.96,42.95 168.76,42.41 170.55,40.37 172.34,43.99 174.14,44.05 175.93,45.3 177.72,46.95 179.52,49.98 181.31,50.46 183.1,51.85 184.9,55.14 186.69,54.66 188.49,56.64 190.28,57.76 192.07,58.49 193.87,61.32 195.66,64.29 197.45,62.15 199.25,64.2 201.04,68.32 202.83,69.78 204.63,68.66 206.42,69.82 208.21,75.56 210.01,75.16 211.8,77.75 213.59,79.68 215.39,81.16 217.18,81.92 218.97,89.66 220.77,88.44 222.56,92.29 224.35,93.13 226.15,99.39 227.94,101.47 229.73,102.62 231.53,106.08 233.32,106 235.11,110.63 236.91,111.87 238.7,115.05 240.49,119.6 242.29,119.03 244.08,123.75 245.87,125.13 247.67,127.84 249.46,129.12 251.25,134.9 253.05,132.86 254.84,136.02 256.63,139.75 258.43,143.98 260.22,146.53 262.01,147.27 263.81,150.18 265.6,150.69 267.39,151.75 269.19,153 270.98,155.46 272.77,158.91 274.57,155.52 276.36,156.72 278.16,162.9 279.95,163.56 281.74,160.62 283.54,163.56 285.33,167.58 287.12,168.61 288.92,174.31 290.71,173.98 292.5,173.76 294.3,181.41 296.09,178.87 297.88,183.48 299.68,180.03 301.47,186.66 303.26,188.19 305.06,188.47 306.85,189.84 308.64,189.42 310.44,188.78 312.23,194.32 314.02,193.81 315.82,193.16 317.61,196.57 317.61,200.52 315.82,197.1 314.02,197.76 312.23,198.26 310.44,192.72 308.64,193.36 306.85,193.78 305.06,192.42 303.26,192.14 301.47,190.6 299.68,183.97 297.88,187.43 296.09,182.82 294.3,185.36 292.5,177.7 290.71,177.93 288.92,178.26 287.12,172.55 285.33,171.52 283.54,167.5 281.74,164.57 279.95,167.5 278.16,166.84 276.36,160.66 274.57,159.47 272.77,162.86 270.98,159.4 269.19,156.94 267.39,155.7 265.6,154.63 263.81,154.13 262.01,151.22 260.22,150.48 258.43,147.93 256.63,143.7 254.84,139.97 253.05,136.8 251.25,138.84 249.46,133.06 247.67,131.79 245.87,129.08 244.08,127.7 242.29,122.97 240.49,123.54 238.7,119 236.91,115.81 235.11,114.58 233.32,109.94 231.53,110.03 229.73,106.56 227.94,105.42 226.15,103.33 224.35,97.07 222.56,96.23 220.77,92.39 218.97,93.6 217.18,85.86 215.39,85.1 213.59,83.62 211.8,81.69 210.01,79.11 208.21,79.5 206.42,73.76 204.63,72.6 202.83,73.72 201.04,72.26 199.25,68.14 197.45,66.1 195.66,68.24 193.87,65.26 192.07,62.43 190.28,61.7 188.49,60.59 186.69,58.6 184.9,59.09 183.1,55.79 181.31,54.4 179.52,53.93 177.72,50.89 175.93,49.24 174.14,47.99 172.34,47.93 170.55,44.32 168.76,46.35 166.96,46.89 165.17,42.02 163.38,39.92 161.58,41.71 159.79,40.1 158,39.45 156.2,39.01 154.41,36.73 152.62,37.48 150.82,36.71 149.03,36.29 147.24,35.62 145.44,35.18 143.65,35.05 141.86,34.49 140.06,34.21 138.27,34.33 136.48,34.18 134.68,33.92 132.89,33.9 131.1,33.57 129.3,33.52 127.51,33.52 125.72,33.45 123.92,33.48 122.13,33.39 120.34,33.32 118.54,33.27 116.75,33.22 114.96,33.18 113.16,33.13 111.37,33.1 109.58,33.08 107.78,33.07 105.99,33.07 104.2,33.07 102.4,33.07 100.61,33.07 98.82,33.07 97.02,33.07 95.23,33.07 93.44,33.07 91.64,33.07 89.85,33.07 88.05,33.07 86.26,33.07 84.47,33.07 82.67,33.07 80.88,33.07 79.09,33.07 77.29,33.07 75.5,33.07 73.71,33.07 71.91,33.07 70.12,33.07 68.33,33.07 66.53,33.07 64.74,33.07 62.95,33.07 61.15,33.07 59.36,33.07 57.57,33.07 55.77,33.07 53.98,33.07 52.19,33.07 50.39,33.07 48.6,33.07" fill="#666666" fill-opacity="0.13" stroke="none"/>
<polyline points="48.6,31.1 50.39,31.1 52.19,31.1 53.98,31.1 55.77,31.1 57.57,31.1 59.36,31.1 61.15,31.1 62.95,31.1 64.74,31.1 66.53,31.1 68.33,31.1 70.12,31.1 71.91,31.1 73.71,31.1 75.5,31.1 77.29,31.1 79.09,31.1 80.88,31.1 82.67,31.1 84.47,31.1 86.26,31.1 88.05,31.1 89.85,31.1 91.64,31.1 93.44,31.1 95.23,31.1 97.02,31.1 98.82,31.1 100.61,31.1 102.4,31.1 104.2,31.1 105.99,31.1 107.78,31.1 109.58,31.11 111.37,31.13 113.16,31.16 114.96,31.2 116.75,31.25 118.54,31.29 120.34,31.35 122.13,31.42 123.92,31.51 125.72,31.48 127.51,31.55 129.3,31.54 131.1,31.6 132.89,31.93 134.68,31.95 136.48,32.21 138.27,32.36 140.06,32.23 141.86,32.52 143.65,33.08 145.44,33.21 147.24,33.65 149.03,34.32 150.82,34.74 152.62,35.51 154.41,34.75 156.2,37.04 158,37.48 159.79,38.13 161.58,39.73 163.38,37.95 165.17,40.05 166.96,44.92 168.76,44.38 170.55,42.35 172.34,45.96 174.14,46.02 175.93,47.27 177.72,48.92 179.52,51.95 181.31,52.43 183.1,53.82 184.9,57.11 186.69,56.63 188.49,58.61 190.28,59.73 192.07,60.46 193.87,63.29 195.66,66.26 197.45,64.13 199.25,66.17 201.04,70.29 202.83,71.75 204.63,70.63 206.42,71.79 208.21,77.53 210.01,77.13 211.8,79.72 213.59,81.65 215.39,83.13 217.18,83.89 218.97,91.63 220.77,90.41 222.56,94.26 224.35,95.1 226.15,101.36 227.94,103.45 229.73,104.59 231.53,108.06 233.32,107.97 235.11,112.61 236.91,113.84 238.7,117.02 240.49,121.57 242.29,121 244.08,125.73 245.87,127.1 247.67,129.81 249.46,131.09 251.25,136.87 253.05,134.83 254.84,137.99 256.63,141.72 258.43,145.95 260.22,148.51 262.01,149.24 263.81,152.16 265.6,152.66 267.39,153.72 269.19,154.97 270.98,157.43 272.77,160.89 274.57,157.49 276.36,158.69 278.16,164.87 279.95,165.53 281.74,162.6 283.54,165.53 285.33,169.55 287.12,170.58 288.92,176.29 290.71,175.95 292.5,175.73 294.3,183.38 296.09,180.84 297.88,185.46 299.68,182 301.47,188.63 303.26,190.17 305.06,190.45 306.85,191.81 308.64,191.39 310.44,190.75 312.23,196.29 314.02,195.79 315.82,195.13 317.61,198.54" fill="none" stroke="#666666" stroke-width="1.55" stroke-linejoin="round"/>
<line x1="106.4" y1="22.0" x2="106.4" y2="238.0" stroke="#000" stroke-width="1.2" stroke-dasharray="3.9,2.13"/>
<rect x="35.5" y="21.3" width="295.2" height="216.7" fill="none" stroke="#303030" stroke-width="1"/>
<line x1="39.63" y1="238" x2="39.63" y2="236" stroke="#303030" stroke-width="0.8"/>
<line x1="39.63" y1="21.3" x2="39.63" y2="23.3" stroke="#303030" stroke-width="0.8"/>
<line x1="48.6" y1="238" x2="48.6" y2="234.4" stroke="#303030" stroke-width="0.8"/>
<line x1="48.6" y1="21.3" x2="48.6" y2="24.9" stroke="#303030" stroke-width="0.8"/>
<line x1="57.57" y1="238" x2="57.57" y2="236" stroke="#303030" stroke-width="0.8"/>
<line x1="57.57" y1="21.3" x2="57.57" y2="23.3" stroke="#303030" stroke-width="0.8"/>
<line x1="66.53" y1="238" x2="66.53" y2="236" stroke="#303030" stroke-width="0.8"/>
<line x1="66.53" y1="21.3" x2="66.53" y2="23.3" stroke="#303030" stroke-width="0.8"/>
<line x1="75.5" y1="238" x2="75.5" y2="236" stroke="#303030" stroke-width="0.8"/>
<line x1="75.5" y1="21.3" x2="75.5" y2="23.3" stroke="#303030" stroke-width="0.8"/>
<line x1="84.47" y1="238" x2="84.47" y2="236" stroke="#303030" stroke-width="0.8"/>
<line x1="84.47" y1="21.3" x2="84.47" y2="23.3" stroke="#303030" stroke-width="0.8"/>
<line x1="93.44" y1="238" x2="93.44" y2="234.4" stroke="#303030" stroke-width="0.8"/>
<line x1="93.44" y1="21.3" x2="93.44" y2="24.9" stroke="#303030" stroke-width="0.8"/>
<line x1="102.4" y1="238" x2="102.4" y2="236" stroke="#303030" stroke-width="0.8"/>
<line x1="102.4" y1="21.3" x2="102.4" y2="23.3" stroke="#303030" stroke-width="0.8"/>
<line x1="111.37" y1="238" x2="111.37" y2="236" stroke="#303030" stroke-width="0.8"/>
<line x1="111.37" y1="21.3" x2="111.37" y2="23.3" stroke="#303030" stroke-width="0.8"/>
<line x1="120.34" y1="238" x2="120.34" y2="236" stroke="#303030" stroke-width="0.8"/>
<line x1="120.34" y1="21.3" x2="120.34" y2="23.3" stroke="#303030" stroke-width="0.8"/>
<line x1="129.3" y1="238" x2="129.3" y2="236" stroke="#303030" stroke-width="0.8"/>
<line x1="129.3" y1="21.3" x2="129.3" y2="23.3" stroke="#303030" stroke-width="0.8"/>
<line x1="138.27" y1="238" x2="138.27" y2="234.4" stroke="#303030" stroke-width="0.8"/>
<line x1="138.27" y1="21.3" x2="138.27" y2="24.9" stroke="#303030" stroke-width="0.8"/>
<line x1="147.24" y1="238" x2="147.24" y2="236" stroke="#303030" stroke-width="0.8"/>
<line x1="147.24" y1="21.3" x2="147.24" y2="23.3" stroke="#303030" stroke-width="0.8"/>
<line x1="156.2" y1="238" x2="156.2" y2="236" stroke="#303030" stroke-width="0.8"/>
<line x1="156.2" y1="21.3" x2="156.2" y2="23.3" stroke="#303030" stroke-width="0.8"/>
<line x1="165.17" y1="238" x2="165.17" y2="236" stroke="#303030" stroke-width="0.8"/>
<line x1="165.17" y1="21.3" x2="165.17" y2="23.3" stroke="#303030" stroke-width="0.8"/>
<line x1="174.14" y1="238" x2="174.14" y2="236" stroke="#303030" stroke-width="0.8"/>
<line x1="174.14" y1="21.3" x2="174.14" y2="23.3" stroke="#303030" stroke-width="0.8"/>
<line x1="183.1" y1="238" x2="183.1" y2="234.4" stroke="#303030" stroke-width="0.8"/>
<line x1="183.1" y1="21.3" x2="183.1" y2="24.9" stroke="#303030" stroke-width="0.8"/>
<line x1="192.07" y1="238" x2="192.07" y2="236" stroke="#303030" stroke-width="0.8"/>
<line x1="192.07" y1="21.3" x2="192.07" y2="23.3" stroke="#303030" stroke-width="0.8"/>
<line x1="201.04" y1="238" x2="201.04" y2="236" stroke="#303030" stroke-width="0.8"/>
<line x1="201.04" y1="21.3" x2="201.04" y2="23.3" stroke="#303030" stroke-width="0.8"/>
<line x1="210.01" y1="238" x2="210.01" y2="236" stroke="#303030" stroke-width="0.8"/>
<line x1="210.01" y1="21.3" x2="210.01" y2="23.3" stroke="#303030" stroke-width="0.8"/>
<line x1="218.97" y1="238" x2="218.97" y2="236" stroke="#303030" stroke-width="0.8"/>
<line x1="218.97" y1="21.3" x2="218.97" y2="23.3" stroke="#303030" stroke-width="0.8"/>
<line x1="227.94" y1="238" x2="227.94" y2="234.4" stroke="#303030" stroke-width="0.8"/>
<line x1="227.94" y1="21.3" x2="227.94" y2="24.9" stroke="#303030" stroke-width="0.8"/>
<line x1="236.91" y1="238" x2="236.91" y2="236" stroke="#303030" stroke-width="0.8"/>
<line x1="236.91" y1="21.3" x2="236.91" y2="23.3" stroke="#303030" stroke-width="0.8"/>
<line x1="245.87" y1="238" x2="245.87" y2="236" stroke="#303030" stroke-width="0.8"/>
<line x1="245.87" y1="21.3" x2="245.87" y2="23.3" stroke="#303030" stroke-width="0.8"/>
<line x1="254.84" y1="238" x2="254.84" y2="236" stroke="#303030" stroke-width="0.8"/>
<line x1="254.84" y1="21.3" x2="254.84" y2="23.3" stroke="#303030" stroke-width="0.8"/>
<line x1="263.81" y1="238" x2="263.81" y2="236" stroke="#303030" stroke-width="0.8"/>
<line x1="263.81" y1="21.3" x2="263.81" y2="23.3" stroke="#303030" stroke-width="0.8"/>
<line x1="272.78" y1="238" x2="272.78" y2="234.4" stroke="#303030" stroke-width="0.8"/>
<line x1="272.78" y1="21.3" x2="272.78" y2="24.9" stroke="#303030" stroke-width="0.8"/>
<line x1="281.74" y1="238" x2="281.74" y2="236" stroke="#303030" stroke-width="0.8"/>
<line x1="281.74" y1="21.3" x2="281.74" y2="23.3" stroke="#303030" stroke-width="0.8"/>
<line x1="290.71" y1="238" x2="290.71" y2="236" stroke="#303030" stroke-width="0.8"/>
<line x1="290.71" y1="21.3" x2="290.71" y2="23.3" stroke="#303030" stroke-width="0.8"/>
<line x1="299.68" y1="238" x2="299.68" y2="236" stroke="#303030" stroke-width="0.8"/>
<line x1="299.68" y1="21.3" x2="299.68" y2="23.3" stroke="#303030" stroke-width="0.8"/>
<line x1="308.64" y1="238" x2="308.64" y2="236" stroke="#303030" stroke-width="0.8"/>
<line x1="308.64" y1="21.3" x2="308.64" y2="23.3" stroke="#303030" stroke-width="0.8"/>
<line x1="317.61" y1="238" x2="317.61" y2="234.4" stroke="#303030" stroke-width="0.8"/>
<line x1="317.61" y1="21.3" x2="317.61" y2="24.9" stroke="#303030" stroke-width="0.8"/>
<line x1="326.58" y1="238" x2="326.58" y2="236" stroke="#303030" stroke-width="0.8"/>
<line x1="326.58" y1="21.3" x2="326.58" y2="23.3" stroke="#303030" stroke-width="0.8"/>
<line x1="35.5" y1="228.3" x2="39.1" y2="228.3" stroke="#303030" stroke-width="0.8"/>
<line x1="330.7" y1="228.3" x2="327.1" y2="228.3" stroke="#303030" stroke-width="0.8"/>
<line x1="35.5" y1="218.44" x2="37.5" y2="218.44" stroke="#303030" stroke-width="0.8"/>
<line x1="330.7" y1="218.44" x2="328.7" y2="218.44" stroke="#303030" stroke-width="0.8"/>
<line x1="35.5" y1="208.58" x2="37.5" y2="208.58" stroke="#303030" stroke-width="0.8"/>
<line x1="330.7" y1="208.58" x2="328.7" y2="208.58" stroke="#303030" stroke-width="0.8"/>
<line x1="35.5" y1="198.72" x2="37.5" y2="198.72" stroke="#303030" stroke-width="0.8"/>
<line x1="330.7" y1="198.72" x2="328.7" y2="198.72" stroke="#303030" stroke-width="0.8"/>
<line x1="35.5" y1="188.86" x2="39.1" y2="188.86" stroke="#303030" stroke-width="0.8"/>
<line x1="330.7" y1="188.86" x2="327.1" y2="188.86" stroke="#303030" stroke-width="0.8"/>
<line x1="35.5" y1="179" x2="37.5" y2="179" stroke="#303030" stroke-width="0.8"/>
<line x1="330.7" y1="179" x2="328.7" y2="179" stroke="#303030" stroke-width="0.8"/>
<line x1="35.5" y1="169.14" x2="37.5" y2="169.14" stroke="#303030" stroke-width="0.8"/>
<line x1="330.7" y1="169.14" x2="328.7" y2="169.14" stroke="#303030" stroke-width="0.8"/>
<line x1="35.5" y1="159.28" x2="37.5" y2="159.28" stroke="#303030" stroke-width="0.8"/>
<line x1="330.7" y1="159.28" x2="328.7" y2="159.28" stroke="#303030" stroke-width="0.8"/>
<line x1="35.5" y1="149.42" x2="39.1" y2="149.42" stroke="#303030" stroke-width="0.8"/>
<line x1="330.7" y1="149.42" x2="327.1" y2="149.42" stroke="#303030" stroke-width="0.8"/>
<line x1="35.5" y1="139.56" x2="37.5" y2="139.56" stroke="#303030" stroke-width="0.8"/>
<line x1="330.7" y1="139.56" x2="328.7" y2="139.56" stroke="#303030" stroke-width="0.8"/>
<line x1="35.5" y1="129.7" x2="37.5" y2="129.7" stroke="#303030" stroke-width="0.8"/>
<line x1="330.7" y1="129.7" x2="328.7" y2="129.7" stroke="#303030" stroke-width="0.8"/>
<line x1="35.5" y1="119.84" x2="37.5" y2="119.84" stroke="#303030" stroke-width="0.8"/>
<line x1="330.7" y1="119.84" x2="328.7" y2="119.84" stroke="#303030" stroke-width="0.8"/>
<line x1="35.5" y1="109.98" x2="39.1" y2="109.98" stroke="#303030" stroke-width="0.8"/>
<line x1="330.7" y1="109.98" x2="327.1" y2="109.98" stroke="#303030" stroke-width="0.8"/>
<line x1="35.5" y1="100.12" x2="37.5" y2="100.12" stroke="#303030" stroke-width="0.8"/>
<line x1="330.7" y1="100.12" x2="328.7" y2="100.12" stroke="#303030" stroke-width="0.8"/>
<line x1="35.5" y1="90.26" x2="37.5" y2="90.26" stroke="#303030" stroke-width="0.8"/>
<line x1="330.7" y1="90.26" x2="328.7" y2="90.26" stroke="#303030" stroke-width="0.8"/>
<line x1="35.5" y1="80.4" x2="37.5" y2="80.4" stroke="#303030" stroke-width="0.8"/>
<line x1="330.7" y1="80.4" x2="328.7" y2="80.4" stroke="#303030" stroke-width="0.8"/>
<line x1="35.5" y1="70.54" x2="39.1" y2="70.54" stroke="#303030" stroke-width="0.8"/>
<line x1="330.7" y1="70.54" x2="327.1" y2="70.54" stroke="#303030" stroke-width="0.8"/>
<line x1="35.5" y1="60.68" x2="37.5" y2="60.68" stroke="#303030" stroke-width="0.8"/>
<line x1="330.7" y1="60.68" x2="328.7" y2="60.68" stroke="#303030" stroke-width="0.8"/>
<line x1="35.5" y1="50.82" x2="37.5" y2="50.82" stroke="#303030" stroke-width="0.8"/>
<line x1="330.7" y1="50.82" x2="328.7" y2="50.82" stroke="#303030" stroke-width="0.8"/>
<line x1="35.5" y1="40.96" x2="37.5" y2="40.96" stroke="#303030" stroke-width="0.8"/>
<line x1="330.7" y1="40.96" x2="328.7" y2="40.96" stroke="#303030" stroke-width="0.8"/>
<line x1="35.5" y1="31.1" x2="39.1" y2="31.1" stroke="#303030" stroke-width="0.8"/>
<line x1="330.7" y1="31.1" x2="327.1" y2="31.1" stroke="#303030" stroke-width="0.8"/>
<text x="48.6" y="249.9" text-anchor="middle" font-size="12.2" textLength="25.53" lengthAdjust="spacingAndGlyphs"><tspan>0.000</tspan></text>
<text x="93.44" y="249.9" text-anchor="middle" font-size="12.2" textLength="25.53" lengthAdjust="spacingAndGlyphs"><tspan>0.005</tspan></text>
<text x="138.27" y="249.9" text-anchor="middle" font-size="12.2" textLength="25.53" lengthAdjust="spacingAndGlyphs"><tspan>0.010</tspan></text>
<text x="183.1" y="249.9" text-anchor="middle" font-size="12.2" textLength="25.53" lengthAdjust="spacingAndGlyphs"><tspan>0.015</tspan></text>
<text x="227.94" y="249.9" text-anchor="middle" font-size="12.2" textLength="25.53" lengthAdjust="spacingAndGlyphs"><tspan>0.020</tspan></text>
<text x="272.78" y="249.9" text-anchor="middle" font-size="12.2" textLength="25.53" lengthAdjust="spacingAndGlyphs"><tspan>0.025</tspan></text>
<text x="317.61" y="249.9" text-anchor="middle" font-size="12.2" textLength="25.53" lengthAdjust="spacingAndGlyphs"><tspan>0.030</tspan></text>
<text x="30.8" y="232.3" text-anchor="end" font-size="12.2" textLength="14.18" lengthAdjust="spacingAndGlyphs"><tspan>0.0</tspan></text>
<text x="30.8" y="192.86" text-anchor="end" font-size="12.2" textLength="14.18" lengthAdjust="spacingAndGlyphs"><tspan>0.2</tspan></text>
<text x="30.8" y="153.42" text-anchor="end" font-size="12.2" textLength="14.18" lengthAdjust="spacingAndGlyphs"><tspan>0.4</tspan></text>
<text x="30.8" y="113.98" text-anchor="end" font-size="12.2" textLength="14.18" lengthAdjust="spacingAndGlyphs"><tspan>0.6</tspan></text>
<text x="30.8" y="74.54" text-anchor="end" font-size="12.2" textLength="14.18" lengthAdjust="spacingAndGlyphs"><tspan>0.8</tspan></text>
<text x="30.8" y="35.1" text-anchor="end" font-size="12.2" textLength="14.18" lengthAdjust="spacingAndGlyphs"><tspan>1.0</tspan></text>
<text x="183.1" y="265.2" text-anchor="middle" font-size="12.2"><tspan>Noise </tspan><tspan font-style="italic">p</tspan></text>
<text transform="translate(8.8,130) rotate(-90)" text-anchor="middle" font-size="12.2"><tspan>Score </tspan><tspan font-style="italic">S</tspan></text>
<text x="0.9" y="8.8" text-anchor="start" font-size="14.8" textLength="15.44" lengthAdjust="spacingAndGlyphs"><tspan>(a)</tspan></text>
<line x1="128.4" y1="127.8" x2="152.7" y2="127.8" stroke="#e41a1c" stroke-width="1.7" stroke-opacity="0.85"/>
<text x="160.7" y="131.7" text-anchor="start" font-size="12.2"><tspan font-style="italic">n</tspan><tspan dx="3.4">=</tspan><tspan dx="3.4">100</tspan></text>
<line x1="128.4" y1="144.05" x2="152.7" y2="144.05" stroke="#377eb8" stroke-width="1.7" stroke-opacity="0.85"/>
<text x="160.7" y="147.95" text-anchor="start" font-size="12.2"><tspan font-style="italic">n</tspan><tspan dx="3.4">=</tspan><tspan dx="3.4">200</tspan></text>
<line x1="128.4" y1="160.3" x2="152.7" y2="160.3" stroke="#4daf4a" stroke-width="1.7" stroke-opacity="0.85"/>
<text x="160.7" y="164.2" text-anchor="start" font-size="12.2"><tspan font-style="italic">n</tspan><tspan dx="3.4">=</tspan><tspan dx="3.4">400</tspan></text>
<line x1="128.4" y1="176.55" x2="152.7" y2="176.55" stroke="#984ea3" stroke-width="1.7" stroke-opacity="0.85"/>
<text x="160.7" y="180.45" text-anchor="start" font-size="12.2"><tspan font-style="italic">n</tspan><tspan dx="3.4">=</tspan><tspan dx="3.4">600</tspan></text>
<line x1="128.4" y1="192.8" x2="152.7" y2="192.8" stroke="#ff7f00" stroke-width="1.7" stroke-opacity="0.85"/>
<text x="160.7" y="196.7" text-anchor="start" font-size="12.2"><tspan font-style="italic">n</tspan><tspan dx="3.4">=</tspan><tspan dx="3.4">800</tspan></text>
<line x1="128.4" y1="209.05" x2="152.7" y2="209.05" stroke="#666666" stroke-width="1.7" stroke-opacity="0.85"/>
<text x="160.7" y="212.95" text-anchor="start" font-size="12.2"><tspan font-style="italic">n</tspan><tspan dx="3.4">=</tspan><tspan dx="3.4">1000</tspan></text>
<line x1="128.5" y1="227.3" x2="152.7" y2="227.3" stroke="#000" stroke-width="1.2" stroke-dasharray="3.9,2.13"/>
<text x="160.7" y="231.2" text-anchor="start" font-size="12.2"><tspan font-style="italic">p</tspan></text>
<polygon points="172.1,221.4 172.83,223.29 174.86,223.4 173.29,224.69 173.8,226.65 172.1,225.55 170.4,226.65 170.91,224.69 169.34,223.4 171.37,223.29" fill="#1a1a1a"/>
<polygon points="402.6,33.81 432.43,58.1 462.26,84.81 492.08,99.71 521.91,115.86 551.74,141.38 581.57,155.1 611.4,182.32 641.22,200.2 671.05,213.61 671.05,229.98 641.22,214.92 611.4,195.4 581.57,164.9 551.74,151.18 521.91,119.93 492.08,102.98 462.26,88.07 432.43,60.54 402.6,35.44" fill="#377eb8" fill-opacity="0.2" stroke="none"/>
<polygon points="402.6,33.55 432.43,59.48 462.26,86.07 492.08,99.71 521.91,116.1 551.74,130.92 581.57,150.11 611.4,166.85 641.22,178.13 671.05,201.59 671.05,207.3 641.22,183.84 611.4,171.74 581.57,155.01 551.74,135 521.91,120.18 492.08,103.79 462.26,90.15 432.43,62.74 402.6,35.18" fill="#4daf4a" fill-opacity="0.2" stroke="none"/>
<polygon points="402.6,30.17 432.43,32.37 462.26,33.06 492.08,33.49 521.91,35.25 551.74,37.69 551.74,40.14 521.91,37.7 492.08,35.94 462.26,35.51 432.43,34.82 402.6,32.61" fill="#e41a1c" fill-opacity="0.2" stroke="none"/>
<polyline points="402.6,31.38 432.43,33.58 462.26,34.27 492.08,34.71 521.91,36.47 551.74,38.9" fill="none" stroke="#e41a1c" stroke-width="1.5" stroke-linejoin="round"/>
<circle cx="402.6" cy="31.38" r="4.2" fill="#e41a1c"/>
<circle cx="432.43" cy="33.58" r="4.2" fill="#e41a1c"/>
<circle cx="462.26" cy="34.27" r="4.2" fill="#e41a1c"/>
<circle cx="492.08" cy="34.71" r="4.2" fill="#e41a1c"/>
<circle cx="521.91" cy="36.47" r="4.2" fill="#e41a1c"/>
<circle cx="551.74" cy="38.9" r="4.2" fill="#e41a1c"/>
<polyline points="402.6,34.62 432.43,59.31 462.26,86.42 492.08,101.33 521.91,117.87 551.74,146.14 581.57,159.86 611.4,188.6 641.22,207.23 671.05,221.38" fill="none" stroke="#377eb8" stroke-width="1.5" stroke-linejoin="round"/>
<polygon points="402.6,30.42 398.4,38.82 406.8,38.82" fill="#377eb8"/>
<polygon points="432.43,55.11 428.23,63.51 436.63,63.51" fill="#377eb8"/>
<polygon points="462.26,82.22 458.06,90.62 466.46,90.62" fill="#377eb8"/>
<polygon points="492.08,97.13 487.88,105.53 496.28,105.53" fill="#377eb8"/>
<polygon points="521.91,113.67 517.71,122.07 526.11,122.07" fill="#377eb8"/>
<polygon points="551.74,141.94 547.54,150.34 555.94,150.34" fill="#377eb8"/>
<polygon points="581.57,155.66 577.37,164.06 585.77,164.06" fill="#377eb8"/>
<polygon points="611.4,184.4 607.2,192.8 615.6,192.8" fill="#377eb8"/>
<polygon points="641.22,203.03 637.02,211.43 645.42,211.43" fill="#377eb8"/>
<polygon points="671.05,217.18 666.85,225.58 675.25,225.58" fill="#377eb8"/>
<polyline points="402.6,34.36 432.43,61.1 462.26,88.08 492.08,101.72 521.91,118.11 551.74,132.93 581.57,152.52 611.4,169.26 641.22,180.93 671.05,204.39" fill="none" stroke="#4daf4a" stroke-width="1.5" stroke-linejoin="round"/>
<rect x="398.35" y="30.11" width="8.5" height="8.5" fill="#4daf4a"/>
<rect x="428.18" y="56.85" width="8.5" height="8.5" fill="#4daf4a"/>
<rect x="458.01" y="83.83" width="8.5" height="8.5" fill="#4daf4a"/>
<rect x="487.83" y="97.47" width="8.5" height="8.5" fill="#4daf4a"/>
<rect x="517.66" y="113.86" width="8.5" height="8.5" fill="#4daf4a"/>
<rect x="547.49" y="128.68" width="8.5" height="8.5" fill="#4daf4a"/>
<rect x="577.32" y="148.27" width="8.5" height="8.5" fill="#4daf4a"/>
<rect x="607.15" y="165.01" width="8.5" height="8.5" fill="#4daf4a"/>
<rect x="636.97" y="176.68" width="8.5" height="8.5" fill="#4daf4a"/>
<rect x="666.8" y="200.14" width="8.5" height="8.5" fill="#4daf4a"/>
<line x1="402.6" y1="47.49" x2="671.05" y2="210.31" stroke="#000" stroke-width="1.4" stroke-dasharray="4.6,1.95"/>
<rect x="389.2" y="21.3" width="295.3" height="216.7" fill="none" stroke="#303030" stroke-width="1"/>
<line x1="395.14" y1="238" x2="395.14" y2="236" stroke="#303030" stroke-width="0.8"/>
<line x1="395.14" y1="21.3" x2="395.14" y2="23.3" stroke="#303030" stroke-width="0.8"/>
<line x1="402.6" y1="238" x2="402.6" y2="236" stroke="#303030" stroke-width="0.8"/>
<line x1="402.6" y1="21.3" x2="402.6" y2="23.3" stroke="#303030" stroke-width="0.8"/>
<line x1="410.06" y1="238" x2="410.06" y2="234.4" stroke="#303030" stroke-width="0.8"/>
<line x1="410.06" y1="21.3" x2="410.06" y2="24.9" stroke="#303030" stroke-width="0.8"/>
<line x1="417.51" y1="238" x2="417.51" y2="236" stroke="#303030" stroke-width="0.8"/>
<line x1="417.51" y1="21.3" x2="417.51" y2="23.3" stroke="#303030" stroke-width="0.8"/>
<line x1="424.97" y1="238" x2="424.97" y2="236" stroke="#303030" stroke-width="0.8"/>
<line x1="424.97" y1="21.3" x2="424.97" y2="23.3" stroke="#303030" stroke-width="0.8"/>
<line x1="432.43" y1="238" x2="432.43" y2="236" stroke="#303030" stroke-width="0.8"/>
<line x1="432.43" y1="21.3" x2="432.43" y2="23.3" stroke="#303030" stroke-width="0.8"/>
<line x1="439.88" y1="238" x2="439.88" y2="236" stroke="#303030" stroke-width="0.8"/>
<line x1="439.88" y1="21.3" x2="439.88" y2="23.3" stroke="#303030" stroke-width="0.8"/>
<line x1="447.34" y1="238" x2="447.34" y2="234.4" stroke="#303030" stroke-width="0.8"/>
<line x1="447.34" y1="21.3" x2="447.34" y2="24.9" stroke="#303030" stroke-width="0.8"/>
<line x1="454.8" y1="238" x2="454.8" y2="236" stroke="#303030" stroke-width="0.8"/>
<line x1="454.8" y1="21.3" x2="454.8" y2="23.3" stroke="#303030" stroke-width="0.8"/>
<line x1="462.26" y1="238" x2="462.26" y2="236" stroke="#303030" stroke-width="0.8"/>
<line x1="462.26" y1="21.3" x2="462.26" y2="23.3" stroke="#303030" stroke-width="0.8"/>
<line x1="469.71" y1="238" x2="469.71" y2="236" stroke="#303030" stroke-width="0.8"/>
<line x1="469.71" y1="21.3" x2="469.71" y2="23.3" stroke="#303030" stroke-width="0.8"/>
<line x1="477.17" y1="238" x2="477.17" y2="236" stroke="#303030" stroke-width="0.8"/>
<line x1="477.17" y1="21.3" x2="477.17" y2="23.3" stroke="#303030" stroke-width="0.8"/>
<line x1="484.63" y1="238" x2="484.63" y2="234.4" stroke="#303030" stroke-width="0.8"/>
<line x1="484.63" y1="21.3" x2="484.63" y2="24.9" stroke="#303030" stroke-width="0.8"/>
<line x1="492.08" y1="238" x2="492.08" y2="236" stroke="#303030" stroke-width="0.8"/>
<line x1="492.08" y1="21.3" x2="492.08" y2="23.3" stroke="#303030" stroke-width="0.8"/>
<line x1="499.54" y1="238" x2="499.54" y2="236" stroke="#303030" stroke-width="0.8"/>
<line x1="499.54" y1="21.3" x2="499.54" y2="23.3" stroke="#303030" stroke-width="0.8"/>
<line x1="507" y1="238" x2="507" y2="236" stroke="#303030" stroke-width="0.8"/>
<line x1="507" y1="21.3" x2="507" y2="23.3" stroke="#303030" stroke-width="0.8"/>
<line x1="514.46" y1="238" x2="514.46" y2="236" stroke="#303030" stroke-width="0.8"/>
<line x1="514.46" y1="21.3" x2="514.46" y2="23.3" stroke="#303030" stroke-width="0.8"/>
<line x1="521.91" y1="238" x2="521.91" y2="234.4" stroke="#303030" stroke-width="0.8"/>
<line x1="521.91" y1="21.3" x2="521.91" y2="24.9" stroke="#303030" stroke-width="0.8"/>
<line x1="529.37" y1="238" x2="529.37" y2="236" stroke="#303030" stroke-width="0.8"/>
<line x1="529.37" y1="21.3" x2="529.37" y2="23.3" stroke="#303030" stroke-width="0.8"/>
<line x1="536.83" y1="238" x2="536.83" y2="236" stroke="#303030" stroke-width="0.8"/>
<line x1="536.83" y1="21.3" x2="536.83" y2="23.3" stroke="#303030" stroke-width="0.8"/>
<line x1="544.28" y1="238" x2="544.28" y2="236" stroke="#303030" stroke-width="0.8"/>
<line x1="544.28" y1="21.3" x2="544.28" y2="23.3" stroke="#303030" stroke-width="0.8"/>
<line x1="551.74" y1="238" x2="551.74" y2="236" stroke="#303030" stroke-width="0.8"/>
<line x1="551.74" y1="21.3" x2="551.74" y2="23.3" stroke="#303030" stroke-width="0.8"/>
<line x1="559.2" y1="238" x2="559.2" y2="234.4" stroke="#303030" stroke-width="0.8"/>
<line x1="559.2" y1="21.3" x2="559.2" y2="24.9" stroke="#303030" stroke-width="0.8"/>
<line x1="566.65" y1="238" x2="566.65" y2="236" stroke="#303030" stroke-width="0.8"/>
<line x1="566.65" y1="21.3" x2="566.65" y2="23.3" stroke="#303030" stroke-width="0.8"/>
<line x1="574.11" y1="238" x2="574.11" y2="236" stroke="#303030" stroke-width="0.8"/>
<line x1="574.11" y1="21.3" x2="574.11" y2="23.3" stroke="#303030" stroke-width="0.8"/>
<line x1="581.57" y1="238" x2="581.57" y2="236" stroke="#303030" stroke-width="0.8"/>
<line x1="581.57" y1="21.3" x2="581.57" y2="23.3" stroke="#303030" stroke-width="0.8"/>
<line x1="589.02" y1="238" x2="589.02" y2="236" stroke="#303030" stroke-width="0.8"/>
<line x1="589.02" y1="21.3" x2="589.02" y2="23.3" stroke="#303030" stroke-width="0.8"/>
<line x1="596.48" y1="238" x2="596.48" y2="234.4" stroke="#303030" stroke-width="0.8"/>
<line x1="596.48" y1="21.3" x2="596.48" y2="24.9" stroke="#303030" stroke-width="0.8"/>
<line x1="603.94" y1="238" x2="603.94" y2="236" stroke="#303030" stroke-width="0.8"/>
<line x1="603.94" y1="21.3" x2="603.94" y2="23.3" stroke="#303030" stroke-width="0.8"/>
<line x1="611.4" y1="238" x2="611.4" y2="236" stroke="#303030" stroke-width="0.8"/>
<line x1="611.4" y1="21.3" x2="611.4" y2="23.3" stroke="#303030" stroke-width="0.8"/>
<line x1="618.85" y1="238" x2="618.85" y2="236" stroke="#303030" stroke-width="0.8"/>
<line x1="618.85" y1="21.3" x2="618.85" y2="23.3" stroke="#303030" stroke-width="0.8"/>
<line x1="626.31" y1="238" x2="626.31" y2="236" stroke="#303030" stroke-width="0.8"/>
<line x1="626.31" y1="21.3" x2="626.31" y2="23.3" stroke="#303030" stroke-width="0.8"/>
<line x1="633.77" y1="238" x2="633.77" y2="234.4" stroke="#303030" stroke-width="0.8"/>
<line x1="633.77" y1="21.3" x2="633.77" y2="24.9" stroke="#303030" stroke-width="0.8"/>
<line x1="641.22" y1="238" x2="641.22" y2="236" stroke="#303030" stroke-width="0.8"/>
<line x1="641.22" y1="21.3" x2="641.22" y2="23.3" stroke="#303030" stroke-width="0.8"/>
<line x1="648.68" y1="238" x2="648.68" y2="236" stroke="#303030" stroke-width="0.8"/>
<line x1="648.68" y1="21.3" x2="648.68" y2="23.3" stroke="#303030" stroke-width="0.8"/>
<line x1="656.14" y1="238" x2="656.14" y2="236" stroke="#303030" stroke-width="0.8"/>
<line x1="656.14" y1="21.3" x2="656.14" y2="23.3" stroke="#303030" stroke-width="0.8"/>
<line x1="663.6" y1="238" x2="663.6" y2="236" stroke="#303030" stroke-width="0.8"/>
<line x1="663.6" y1="21.3" x2="663.6" y2="23.3" stroke="#303030" stroke-width="0.8"/>
<line x1="671.05" y1="238" x2="671.05" y2="234.4" stroke="#303030" stroke-width="0.8"/>
<line x1="671.05" y1="21.3" x2="671.05" y2="24.9" stroke="#303030" stroke-width="0.8"/>
<line x1="678.51" y1="238" x2="678.51" y2="236" stroke="#303030" stroke-width="0.8"/>
<line x1="678.51" y1="21.3" x2="678.51" y2="23.3" stroke="#303030" stroke-width="0.8"/>
<line x1="389.2" y1="29.4" x2="392.8" y2="29.4" stroke="#303030" stroke-width="0.8"/>
<line x1="684.5" y1="29.4" x2="680.9" y2="29.4" stroke="#303030" stroke-width="0.8"/>
<line x1="389.2" y1="217.2" x2="392.8" y2="217.2" stroke="#303030" stroke-width="0.8"/>
<line x1="684.5" y1="217.2" x2="680.9" y2="217.2" stroke="#303030" stroke-width="0.8"/>
<line x1="389.2" y1="160.67" x2="391.2" y2="160.67" stroke="#303030" stroke-width="0.8"/>
<line x1="684.5" y1="160.67" x2="682.5" y2="160.67" stroke="#303030" stroke-width="0.8"/>
<line x1="389.2" y1="127.6" x2="391.2" y2="127.6" stroke="#303030" stroke-width="0.8"/>
<line x1="684.5" y1="127.6" x2="682.5" y2="127.6" stroke="#303030" stroke-width="0.8"/>
<line x1="389.2" y1="104.13" x2="391.2" y2="104.13" stroke="#303030" stroke-width="0.8"/>
<line x1="684.5" y1="104.13" x2="682.5" y2="104.13" stroke="#303030" stroke-width="0.8"/>
<line x1="389.2" y1="85.93" x2="391.2" y2="85.93" stroke="#303030" stroke-width="0.8"/>
<line x1="684.5" y1="85.93" x2="682.5" y2="85.93" stroke="#303030" stroke-width="0.8"/>
<line x1="389.2" y1="71.06" x2="391.2" y2="71.06" stroke="#303030" stroke-width="0.8"/>
<line x1="684.5" y1="71.06" x2="682.5" y2="71.06" stroke="#303030" stroke-width="0.8"/>
<line x1="389.2" y1="58.49" x2="391.2" y2="58.49" stroke="#303030" stroke-width="0.8"/>
<line x1="684.5" y1="58.49" x2="682.5" y2="58.49" stroke="#303030" stroke-width="0.8"/>
<line x1="389.2" y1="47.6" x2="391.2" y2="47.6" stroke="#303030" stroke-width="0.8"/>
<line x1="684.5" y1="47.6" x2="682.5" y2="47.6" stroke="#303030" stroke-width="0.8"/>
<line x1="389.2" y1="37.99" x2="391.2" y2="37.99" stroke="#303030" stroke-width="0.8"/>
<line x1="684.5" y1="37.99" x2="682.5" y2="37.99" stroke="#303030" stroke-width="0.8"/>
<line x1="389.2" y1="235.4" x2="391.2" y2="235.4" stroke="#303030" stroke-width="0.8"/>
<line x1="684.5" y1="235.4" x2="682.5" y2="235.4" stroke="#303030" stroke-width="0.8"/>
<line x1="389.2" y1="225.79" x2="391.2" y2="225.79" stroke="#303030" stroke-width="0.8"/>
<line x1="684.5" y1="225.79" x2="682.5" y2="225.79" stroke="#303030" stroke-width="0.8"/>
<text x="410.06" y="249.9" text-anchor="middle" font-size="12.2" textLength="5.67" lengthAdjust="spacingAndGlyphs"><tspan>5</tspan></text>
<text x="447.34" y="249.9" text-anchor="middle" font-size="12.2" textLength="11.35" lengthAdjust="spacingAndGlyphs"><tspan>10</tspan></text>
<text x="484.63" y="249.9" text-anchor="middle" font-size="12.2" textLength="11.35" lengthAdjust="spacingAndGlyphs"><tspan>15</tspan></text>
<text x="521.91" y="249.9" text-anchor="middle" font-size="12.2" textLength="11.35" lengthAdjust="spacingAndGlyphs"><tspan>20</tspan></text>
<text x="559.2" y="249.9" text-anchor="middle" font-size="12.2" textLength="11.35" lengthAdjust="spacingAndGlyphs"><tspan>25</tspan></text>
<text x="596.48" y="249.9" text-anchor="middle" font-size="12.2" textLength="11.35" lengthAdjust="spacingAndGlyphs"><tspan>30</tspan></text>
<text x="633.77" y="249.9" text-anchor="middle" font-size="12.2" textLength="11.35" lengthAdjust="spacingAndGlyphs"><tspan>35</tspan></text>
<text x="671.05" y="249.9" text-anchor="middle" font-size="12.2" textLength="11.35" lengthAdjust="spacingAndGlyphs"><tspan>40</tspan></text>
<text x="383.6" y="34" text-anchor="end" font-size="12.2"><tspan>10</tspan><tspan dx="0.4" dy="-4.6" font-size="8.5">0</tspan></text>
<text x="383" y="221.8" text-anchor="end" font-size="12.2"><tspan>10</tspan><tspan dx="1.4" dy="-5.4" font-size="8.5">−</tspan><tspan dx="0.2" font-size="8.5">1</tspan></text>
<text x="536.85" y="265.4" text-anchor="middle" font-size="12.2" textLength="70.11" lengthAdjust="spacingAndGlyphs"><tspan>System size </tspan><tspan font-style="italic">n</tspan></text>
<text transform="translate(352.6,129.4) rotate(-90)" text-anchor="middle" font-size="12.2" textLength="38.04" lengthAdjust="spacingAndGlyphs"><tspan>Score </tspan><tspan font-style="italic">S</tspan></text>
<text x="346.9" y="9.3" text-anchor="start" font-size="14.8" textLength="16.22" lengthAdjust="spacingAndGlyphs"><tspan>(b)</tspan></text>
<line x1="557.6" y1="35.8" x2="581.4" y2="35.8" stroke="#e41a1c" stroke-width="1.5"/>
<circle cx="569.3" cy="35.8" r="4.2" fill="#e41a1c"/>
<line x1="557.6" y1="52.4" x2="581.4" y2="52.4" stroke="#377eb8" stroke-width="1.5"/>
<polygon points="569.3,48.2 565.1,56.6 573.5,56.6" fill="#377eb8"/>
<line x1="557.6" y1="68.8" x2="581.4" y2="68.8" stroke="#4daf4a" stroke-width="1.5"/>
<rect x="565.05" y="64.55" width="8.5" height="8.5" fill="#4daf4a"/>
<line x1="557.9" y1="85.3" x2="581.4" y2="85.3" stroke="#000" stroke-width="1.4" stroke-dasharray="4.1,2.0"/>
<text x="590.2" y="40.2" text-anchor="start" font-size="12.2"><tspan>IonQ-Aria</tspan></text>
<text x="590.2" y="56.8" text-anchor="start" font-size="12.2"><tspan>Autoregressive</tspan></text>
<text x="590.2" y="73.2" text-anchor="start" font-size="12.2"><tspan>Encoder-decoder</tspan></text>
<text x="590.2" y="89.7" text-anchor="start" font-size="12.2" textLength="82.11" lengthAdjust="spacingAndGlyphs"><tspan>log</tspan><tspan dy="2.4" font-size="8.5">2</tspan><tspan font-style="italic" dx="2.4" dy="-2.4">S</tspan><tspan dx="2.2">=</tspan><tspan dx="4.2">−</tspan><tspan dx="3">0.08</tspan><tspan font-style="italic">n</tspan></text>
<polygon points="51.25,393.26 63.58,383.72 73.66,384.8 89.55,368.75 107.15,346.63 120.47,331.23 134.36,309.32 147.9,313.01 162.58,332.96 177.08,339.25 191.9,359.86 206.14,347.93 220.12,354.65 234.37,358.56 248.86,367.23 262.79,372.22 277.01,382.85 291.25,393.7 305.42,393.05 319.33,393.05 319.33,399.55 305.42,399.55 291.25,400.2 277.01,389.36 262.79,378.73 248.86,373.74 234.37,365.07 220.12,361.16 206.14,354.44 191.9,366.37 177.08,347.93 162.58,341.64 147.9,321.69 134.36,321.47 120.47,344.24 107.15,359.64 89.55,379.6 73.66,392.61 63.58,390.23 51.25,399.77" fill="#e41a1c" fill-opacity="0.22" stroke="none"/>
<polygon points="51.25,413.65 63.58,414.09 73.66,414.74 89.55,404.54 107.15,373.52 120.47,352.92 134.36,314.74 147.9,315.83 162.58,322.77 177.08,355.31 191.9,366.37 206.14,378.51 220.12,379.6 234.37,403.24 248.86,416.47 262.79,416.69 277.01,418.64 291.25,416.25 305.42,412.78 319.33,409.96 319.33,416.47 305.42,419.29 291.25,422.76 277.01,425.15 262.79,423.19 248.86,422.98 234.37,414.09 220.12,392.61 206.14,389.36 191.9,377.21 177.08,368.32 162.58,335.78 147.9,324.51 134.36,325.59 120.47,365.93 107.15,385.67 89.55,413.22 73.66,421.24 63.58,419.29 51.25,418.86" fill="#377eb8" fill-opacity="0.22" stroke="none"/>
<polygon points="51.25,450.52 63.58,453.78 73.66,453.78 89.55,448.57 107.15,435.56 120.47,407.14 134.36,401.5 147.9,366.58 162.58,385.89 177.08,409.96 191.9,434.69 206.14,440.55 220.12,452.48 234.37,459.42 248.86,458.55 262.79,461.37 277.01,452.69 291.25,448.57 305.42,442.5 319.33,440.11 319.33,446.62 305.42,449.01 291.25,455.08 277.01,459.2 262.79,467.88 248.86,465.06 234.37,468.09 220.12,463.32 206.14,453.56 191.9,452.04 177.08,431.65 162.58,407.58 147.9,388.27 134.36,414.52 120.47,420.16 107.15,444.23 89.55,455.08 73.66,460.28 63.58,460.28 51.25,457.03" fill="#4daf4a" fill-opacity="0.22" stroke="none"/>
<polygon points="51.25,471.13 63.58,472.21 73.66,475.03 89.55,468.74 107.15,465.49 120.47,454.86 134.36,452.48 147.9,436.86 162.58,452.04 177.08,460.94 191.9,469.83 206.14,473.3 220.12,478.07 234.37,478.07 248.86,479.81 262.79,476.77 277.01,475.03 291.25,468.53 305.42,466.57 319.33,461.37 319.33,467.88 305.42,473.08 291.25,475.03 277.01,481.54 262.79,483.28 248.86,486.31 234.37,484.58 220.12,484.58 206.14,481.97 191.9,480.67 177.08,473.95 162.58,467.23 147.9,454.21 134.36,465.49 120.47,465.71 107.15,474.17 89.55,475.25 73.66,481.54 63.58,478.72 51.25,477.64" fill="#984ea3" fill-opacity="0.22" stroke="none"/>
<polygon points="51.25,483.06 63.58,483.71 73.66,483.71 89.55,483.06 107.15,483.06 120.47,474.17 134.36,466.36 147.9,472 162.58,483.06 177.08,485.88 191.9,487.4 206.14,488.92 220.12,489.78 234.37,490.65 248.86,489.78 262.79,488.92 277.01,481.76 291.25,481.76 305.42,476.99 319.33,477.64 319.33,481.97 305.42,481.32 291.25,486.1 277.01,486.1 262.79,493.25 248.86,494.12 234.37,494.99 220.12,494.12 206.14,493.25 191.9,491.74 177.08,490.22 162.58,489.57 147.9,480.67 134.36,475.03 120.47,482.84 107.15,487.4 89.55,487.4 73.66,488.05 63.58,488.05 51.25,487.4" fill="#ff7f00" fill-opacity="0.22" stroke="none"/>
<polyline points="51.25,396.52 63.58,386.97 73.66,388.71 89.55,374.18 107.15,353.14 120.47,337.74 134.36,315.4 147.9,317.35 162.58,337.3 177.08,343.59 191.9,363.11 206.14,351.18 220.12,357.91 234.37,361.81 248.86,370.49 262.79,375.48 277.01,386.1 291.25,396.95 305.42,396.3 319.33,396.3" fill="none" stroke="#e41a1c" stroke-width="1.6" stroke-linejoin="round"/>
<circle cx="51.25" cy="396.52" r="4.1" fill="#e41a1c"/>
<circle cx="63.58" cy="386.97" r="4.1" fill="#e41a1c"/>
<circle cx="73.66" cy="388.71" r="4.1" fill="#e41a1c"/>
<circle cx="89.55" cy="374.18" r="4.1" fill="#e41a1c"/>
<circle cx="107.15" cy="353.14" r="4.1" fill="#e41a1c"/>
<circle cx="120.47" cy="337.74" r="4.1" fill="#e41a1c"/>
<circle cx="134.36" cy="315.4" r="4.1" fill="#e41a1c"/>
<circle cx="147.9" cy="317.35" r="4.1" fill="#e41a1c"/>
<circle cx="162.58" cy="337.3" r="4.1" fill="#e41a1c"/>
<circle cx="177.08" cy="343.59" r="4.1" fill="#e41a1c"/>
<circle cx="191.9" cy="363.11" r="4.1" fill="#e41a1c"/>
<circle cx="206.14" cy="351.18" r="4.1" fill="#e41a1c"/>
<circle cx="220.12" cy="357.91" r="4.1" fill="#e41a1c"/>
<circle cx="234.37" cy="361.81" r="4.1" fill="#e41a1c"/>
<circle cx="248.86" cy="370.49" r="4.1" fill="#e41a1c"/>
<circle cx="262.79" cy="375.48" r="4.1" fill="#e41a1c"/>
<circle cx="277.01" cy="386.1" r="4.1" fill="#e41a1c"/>
<circle cx="291.25" cy="396.95" r="4.1" fill="#e41a1c"/>
<circle cx="305.42" cy="396.3" r="4.1" fill="#e41a1c"/>
<circle cx="319.33" cy="396.3" r="4.1" fill="#e41a1c"/>
<polyline points="51.25,416.25 63.58,416.69 73.66,417.99 89.55,408.88 107.15,379.6 120.47,359.43 134.36,320.17 147.9,320.17 162.58,329.28 177.08,361.81 191.9,371.79 206.14,383.94 220.12,386.1 234.37,408.66 248.86,419.72 262.79,419.94 277.01,421.89 291.25,419.51 305.42,416.04 319.33,413.22" fill="none" stroke="#377eb8" stroke-width="1.6" stroke-linejoin="round"/>
<polygon points="51.25,411.75 46.75,420.75 55.75,420.75" fill="#377eb8"/>
<polygon points="63.58,412.19 59.08,421.19 68.08,421.19" fill="#377eb8"/>
<polygon points="73.66,413.49 69.16,422.49 78.16,422.49" fill="#377eb8"/>
<polygon points="89.55,404.38 85.05,413.38 94.05,413.38" fill="#377eb8"/>
<polygon points="107.15,375.1 102.65,384.1 111.65,384.1" fill="#377eb8"/>
<polygon points="120.47,354.93 115.97,363.93 124.97,363.93" fill="#377eb8"/>
<polygon points="134.36,315.67 129.86,324.67 138.86,324.67" fill="#377eb8"/>
<polygon points="147.9,315.67 143.4,324.67 152.4,324.67" fill="#377eb8"/>
<polygon points="162.58,324.78 158.08,333.78 167.08,333.78" fill="#377eb8"/>
<polygon points="177.08,357.31 172.58,366.31 181.58,366.31" fill="#377eb8"/>
<polygon points="191.9,367.29 187.4,376.29 196.4,376.29" fill="#377eb8"/>
<polygon points="206.14,379.44 201.64,388.44 210.64,388.44" fill="#377eb8"/>
<polygon points="220.12,381.6 215.62,390.6 224.62,390.6" fill="#377eb8"/>
<polygon points="234.37,404.16 229.87,413.16 238.87,413.16" fill="#377eb8"/>
<polygon points="248.86,415.22 244.36,424.22 253.36,424.22" fill="#377eb8"/>
<polygon points="262.79,415.44 258.29,424.44 267.29,424.44" fill="#377eb8"/>
<polygon points="277.01,417.39 272.51,426.39 281.51,426.39" fill="#377eb8"/>
<polygon points="291.25,415.01 286.75,424.01 295.75,424.01" fill="#377eb8"/>
<polygon points="305.42,411.54 300.92,420.54 309.92,420.54" fill="#377eb8"/>
<polygon points="319.33,408.72 314.83,417.72 323.83,417.72" fill="#377eb8"/>
<polyline points="51.25,453.78 63.58,457.03 73.66,457.03 89.55,451.83 107.15,439.9 120.47,413.65 134.36,408.01 147.9,377.43 162.58,396.73 177.08,420.81 191.9,443.37 206.14,447.05 220.12,457.9 234.37,463.76 248.86,461.8 262.79,464.62 277.01,455.95 291.25,451.83 305.42,445.75 319.33,443.37" fill="none" stroke="#4daf4a" stroke-width="1.6" stroke-linejoin="round"/>
<rect x="47.25" y="449.78" width="8" height="8" fill="#4daf4a"/>
<rect x="59.58" y="453.03" width="8" height="8" fill="#4daf4a"/>
<rect x="69.66" y="453.03" width="8" height="8" fill="#4daf4a"/>
<rect x="85.55" y="447.83" width="8" height="8" fill="#4daf4a"/>
<rect x="103.15" y="435.9" width="8" height="8" fill="#4daf4a"/>
<rect x="116.47" y="409.65" width="8" height="8" fill="#4daf4a"/>
<rect x="130.36" y="404.01" width="8" height="8" fill="#4daf4a"/>
<rect x="143.9" y="373.43" width="8" height="8" fill="#4daf4a"/>
<rect x="158.58" y="392.73" width="8" height="8" fill="#4daf4a"/>
<rect x="173.08" y="416.81" width="8" height="8" fill="#4daf4a"/>
<rect x="187.9" y="439.37" width="8" height="8" fill="#4daf4a"/>
<rect x="202.14" y="443.05" width="8" height="8" fill="#4daf4a"/>
<rect x="216.12" y="453.9" width="8" height="8" fill="#4daf4a"/>
<rect x="230.37" y="459.76" width="8" height="8" fill="#4daf4a"/>
<rect x="244.86" y="457.8" width="8" height="8" fill="#4daf4a"/>
<rect x="258.79" y="460.62" width="8" height="8" fill="#4daf4a"/>
<rect x="273.01" y="451.95" width="8" height="8" fill="#4daf4a"/>
<rect x="287.25" y="447.83" width="8" height="8" fill="#4daf4a"/>
<rect x="301.42" y="441.75" width="8" height="8" fill="#4daf4a"/>
<rect x="315.33" y="439.37" width="8" height="8" fill="#4daf4a"/>
<polyline points="51.25,474.38 63.58,475.47 73.66,478.29 89.55,472 107.15,469.83 120.47,460.28 134.36,458.98 147.9,445.54 162.58,459.63 177.08,467.44 191.9,475.25 206.14,477.64 220.12,481.32 234.37,481.32 248.86,483.06 262.79,480.02 277.01,478.29 291.25,471.78 305.42,469.83 319.33,464.62" fill="none" stroke="#984ea3" stroke-width="1.6" stroke-linejoin="round"/>
<polygon points="51.25,468.98 56.65,474.38 51.25,479.78 45.85,474.38" fill="#984ea3"/>
<polygon points="63.58,470.07 68.98,475.47 63.58,480.87 58.18,475.47" fill="#984ea3"/>
<polygon points="73.66,472.89 79.06,478.29 73.66,483.69 68.26,478.29" fill="#984ea3"/>
<polygon points="89.55,466.6 94.95,472 89.55,477.4 84.15,472" fill="#984ea3"/>
<polygon points="107.15,464.43 112.55,469.83 107.15,475.23 101.75,469.83" fill="#984ea3"/>
<polygon points="120.47,454.88 125.87,460.28 120.47,465.68 115.07,460.28" fill="#984ea3"/>
<polygon points="134.36,453.58 139.76,458.98 134.36,464.38 128.96,458.98" fill="#984ea3"/>
<polygon points="147.9,440.14 153.3,445.54 147.9,450.94 142.5,445.54" fill="#984ea3"/>
<polygon points="162.58,454.23 167.98,459.63 162.58,465.03 157.18,459.63" fill="#984ea3"/>
<polygon points="177.08,462.04 182.48,467.44 177.08,472.84 171.68,467.44" fill="#984ea3"/>
<polygon points="191.9,469.85 197.3,475.25 191.9,480.65 186.5,475.25" fill="#984ea3"/>
<polygon points="206.14,472.24 211.54,477.64 206.14,483.04 200.74,477.64" fill="#984ea3"/>
<polygon points="220.12,475.92 225.52,481.32 220.12,486.72 214.72,481.32" fill="#984ea3"/>
<polygon points="234.37,475.92 239.77,481.32 234.37,486.72 228.97,481.32" fill="#984ea3"/>
<polygon points="248.86,477.66 254.26,483.06 248.86,488.46 243.46,483.06" fill="#984ea3"/>
<polygon points="262.79,474.62 268.19,480.02 262.79,485.42 257.39,480.02" fill="#984ea3"/>
<polygon points="277.01,472.89 282.41,478.29 277.01,483.69 271.61,478.29" fill="#984ea3"/>
<polygon points="291.25,466.38 296.65,471.78 291.25,477.18 285.85,471.78" fill="#984ea3"/>
<polygon points="305.42,464.43 310.82,469.83 305.42,475.23 300.02,469.83" fill="#984ea3"/>
<polygon points="319.33,459.22 324.73,464.62 319.33,470.02 313.93,464.62" fill="#984ea3"/>
<polyline points="51.25,485.23 63.58,485.88 73.66,485.88 89.55,485.23 107.15,485.23 120.47,478.5 134.36,470.7 147.9,476.34 162.58,486.31 177.08,488.05 191.9,489.57 206.14,491.08 220.12,491.95 234.37,492.82 248.86,491.95 262.79,491.08 277.01,483.93 291.25,483.93 305.42,479.16 319.33,479.81" fill="none" stroke="#ff7f00" stroke-width="1.6" stroke-linejoin="round"/>
<polygon points="51.25,489.73 46.75,480.73 55.75,480.73" fill="#ff7f00"/>
<polygon points="63.58,490.38 59.08,481.38 68.08,481.38" fill="#ff7f00"/>
<polygon points="73.66,490.38 69.16,481.38 78.16,481.38" fill="#ff7f00"/>
<polygon points="89.55,489.73 85.05,480.73 94.05,480.73" fill="#ff7f00"/>
<polygon points="107.15,489.73 102.65,480.73 111.65,480.73" fill="#ff7f00"/>
<polygon points="120.47,483 115.97,474 124.97,474" fill="#ff7f00"/>
<polygon points="134.36,475.2 129.86,466.2 138.86,466.2" fill="#ff7f00"/>
<polygon points="147.9,480.84 143.4,471.84 152.4,471.84" fill="#ff7f00"/>
<polygon points="162.58,490.81 158.08,481.81 167.08,481.81" fill="#ff7f00"/>
<polygon points="177.08,492.55 172.58,483.55 181.58,483.55" fill="#ff7f00"/>
<polygon points="191.9,494.07 187.4,485.07 196.4,485.07" fill="#ff7f00"/>
<polygon points="206.14,495.58 201.64,486.58 210.64,486.58" fill="#ff7f00"/>
<polygon points="220.12,496.45 215.62,487.45 224.62,487.45" fill="#ff7f00"/>
<polygon points="234.37,497.32 229.87,488.32 238.87,488.32" fill="#ff7f00"/>
<polygon points="248.86,496.45 244.36,487.45 253.36,487.45" fill="#ff7f00"/>
<polygon points="262.79,495.58 258.29,486.58 267.29,486.58" fill="#ff7f00"/>
<polygon points="277.01,488.43 272.51,479.43 281.51,479.43" fill="#ff7f00"/>
<polygon points="291.25,488.43 286.75,479.43 295.75,479.43" fill="#ff7f00"/>
<polygon points="305.42,483.66 300.92,474.66 309.92,474.66" fill="#ff7f00"/>
<polygon points="319.33,484.31 314.83,475.31 323.83,475.31" fill="#ff7f00"/>
<rect x="35.5" y="288.5" width="295.2" height="216.9" fill="none" stroke="#303030" stroke-width="1"/>
<line x1="51.25" y1="505.4" x2="51.25" y2="503.4" stroke="#303030" stroke-width="0.8"/>
<line x1="51.25" y1="288.5" x2="51.25" y2="290.5" stroke="#303030" stroke-width="0.8"/>
<line x1="63.58" y1="505.4" x2="63.58" y2="503.4" stroke="#303030" stroke-width="0.8"/>
<line x1="63.58" y1="288.5" x2="63.58" y2="290.5" stroke="#303030" stroke-width="0.8"/>
<line x1="73.66" y1="505.4" x2="73.66" y2="503.4" stroke="#303030" stroke-width="0.8"/>
<line x1="73.66" y1="288.5" x2="73.66" y2="290.5" stroke="#303030" stroke-width="0.8"/>
<line x1="82.17" y1="505.4" x2="82.17" y2="503.4" stroke="#303030" stroke-width="0.8"/>
<line x1="82.17" y1="288.5" x2="82.17" y2="290.5" stroke="#303030" stroke-width="0.8"/>
<line x1="89.55" y1="505.4" x2="89.55" y2="503.4" stroke="#303030" stroke-width="0.8"/>
<line x1="89.55" y1="288.5" x2="89.55" y2="290.5" stroke="#303030" stroke-width="0.8"/>
<line x1="96.06" y1="505.4" x2="96.06" y2="503.4" stroke="#303030" stroke-width="0.8"/>
<line x1="96.06" y1="288.5" x2="96.06" y2="290.5" stroke="#303030" stroke-width="0.8"/>
<line x1="101.88" y1="505.4" x2="101.88" y2="501.8" stroke="#303030" stroke-width="0.8"/>
<line x1="101.88" y1="288.5" x2="101.88" y2="292.1" stroke="#303030" stroke-width="0.8"/>
<line x1="140.18" y1="505.4" x2="140.18" y2="503.4" stroke="#303030" stroke-width="0.8"/>
<line x1="140.18" y1="288.5" x2="140.18" y2="290.5" stroke="#303030" stroke-width="0.8"/>
<line x1="162.58" y1="505.4" x2="162.58" y2="503.4" stroke="#303030" stroke-width="0.8"/>
<line x1="162.58" y1="288.5" x2="162.58" y2="290.5" stroke="#303030" stroke-width="0.8"/>
<line x1="178.47" y1="505.4" x2="178.47" y2="503.4" stroke="#303030" stroke-width="0.8"/>
<line x1="178.47" y1="288.5" x2="178.47" y2="290.5" stroke="#303030" stroke-width="0.8"/>
<line x1="190.8" y1="505.4" x2="190.8" y2="503.4" stroke="#303030" stroke-width="0.8"/>
<line x1="190.8" y1="288.5" x2="190.8" y2="290.5" stroke="#303030" stroke-width="0.8"/>
<line x1="200.88" y1="505.4" x2="200.88" y2="503.4" stroke="#303030" stroke-width="0.8"/>
<line x1="200.88" y1="288.5" x2="200.88" y2="290.5" stroke="#303030" stroke-width="0.8"/>
<line x1="209.39" y1="505.4" x2="209.39" y2="503.4" stroke="#303030" stroke-width="0.8"/>
<line x1="209.39" y1="288.5" x2="209.39" y2="290.5" stroke="#303030" stroke-width="0.8"/>
<line x1="216.77" y1="505.4" x2="216.77" y2="503.4" stroke="#303030" stroke-width="0.8"/>
<line x1="216.77" y1="288.5" x2="216.77" y2="290.5" stroke="#303030" stroke-width="0.8"/>
<line x1="223.28" y1="505.4" x2="223.28" y2="503.4" stroke="#303030" stroke-width="0.8"/>
<line x1="223.28" y1="288.5" x2="223.28" y2="290.5" stroke="#303030" stroke-width="0.8"/>
<line x1="229.1" y1="505.4" x2="229.1" y2="501.8" stroke="#303030" stroke-width="0.8"/>
<line x1="229.1" y1="288.5" x2="229.1" y2="292.1" stroke="#303030" stroke-width="0.8"/>
<line x1="267.4" y1="505.4" x2="267.4" y2="503.4" stroke="#303030" stroke-width="0.8"/>
<line x1="267.4" y1="288.5" x2="267.4" y2="290.5" stroke="#303030" stroke-width="0.8"/>
<line x1="289.8" y1="505.4" x2="289.8" y2="503.4" stroke="#303030" stroke-width="0.8"/>
<line x1="289.8" y1="288.5" x2="289.8" y2="290.5" stroke="#303030" stroke-width="0.8"/>
<line x1="305.69" y1="505.4" x2="305.69" y2="503.4" stroke="#303030" stroke-width="0.8"/>
<line x1="305.69" y1="288.5" x2="305.69" y2="290.5" stroke="#303030" stroke-width="0.8"/>
<line x1="318.02" y1="505.4" x2="318.02" y2="503.4" stroke="#303030" stroke-width="0.8"/>
<line x1="318.02" y1="288.5" x2="318.02" y2="290.5" stroke="#303030" stroke-width="0.8"/>
<line x1="328.1" y1="505.4" x2="328.1" y2="503.4" stroke="#303030" stroke-width="0.8"/>
<line x1="328.1" y1="288.5" x2="328.1" y2="290.5" stroke="#303030" stroke-width="0.8"/>
<line x1="35.5" y1="505.4" x2="39.1" y2="505.4" stroke="#303030" stroke-width="0.8"/>
<line x1="330.7" y1="505.4" x2="327.1" y2="505.4" stroke="#303030" stroke-width="0.8"/>
<line x1="35.5" y1="494.55" x2="37.5" y2="494.55" stroke="#303030" stroke-width="0.8"/>
<line x1="330.7" y1="494.55" x2="328.7" y2="494.55" stroke="#303030" stroke-width="0.8"/>
<line x1="35.5" y1="483.71" x2="37.5" y2="483.71" stroke="#303030" stroke-width="0.8"/>
<line x1="330.7" y1="483.71" x2="328.7" y2="483.71" stroke="#303030" stroke-width="0.8"/>
<line x1="35.5" y1="472.86" x2="37.5" y2="472.86" stroke="#303030" stroke-width="0.8"/>
<line x1="330.7" y1="472.86" x2="328.7" y2="472.86" stroke="#303030" stroke-width="0.8"/>
<line x1="35.5" y1="462.02" x2="39.1" y2="462.02" stroke="#303030" stroke-width="0.8"/>
<line x1="330.7" y1="462.02" x2="327.1" y2="462.02" stroke="#303030" stroke-width="0.8"/>
<line x1="35.5" y1="451.17" x2="37.5" y2="451.17" stroke="#303030" stroke-width="0.8"/>
<line x1="330.7" y1="451.17" x2="328.7" y2="451.17" stroke="#303030" stroke-width="0.8"/>
<line x1="35.5" y1="440.33" x2="37.5" y2="440.33" stroke="#303030" stroke-width="0.8"/>
<line x1="330.7" y1="440.33" x2="328.7" y2="440.33" stroke="#303030" stroke-width="0.8"/>
<line x1="35.5" y1="429.48" x2="37.5" y2="429.48" stroke="#303030" stroke-width="0.8"/>
<line x1="330.7" y1="429.48" x2="328.7" y2="429.48" stroke="#303030" stroke-width="0.8"/>
<line x1="35.5" y1="418.64" x2="39.1" y2="418.64" stroke="#303030" stroke-width="0.8"/>
<line x1="330.7" y1="418.64" x2="327.1" y2="418.64" stroke="#303030" stroke-width="0.8"/>
<line x1="35.5" y1="407.79" x2="37.5" y2="407.79" stroke="#303030" stroke-width="0.8"/>
<line x1="330.7" y1="407.79" x2="328.7" y2="407.79" stroke="#303030" stroke-width="0.8"/>
<line x1="35.5" y1="396.95" x2="37.5" y2="396.95" stroke="#303030" stroke-width="0.8"/>
<line x1="330.7" y1="396.95" x2="328.7" y2="396.95" stroke="#303030" stroke-width="0.8"/>
<line x1="35.5" y1="386.1" x2="37.5" y2="386.1" stroke="#303030" stroke-width="0.8"/>
<line x1="330.7" y1="386.1" x2="328.7" y2="386.1" stroke="#303030" stroke-width="0.8"/>
<line x1="35.5" y1="375.26" x2="39.1" y2="375.26" stroke="#303030" stroke-width="0.8"/>
<line x1="330.7" y1="375.26" x2="327.1" y2="375.26" stroke="#303030" stroke-width="0.8"/>
<line x1="35.5" y1="364.41" x2="37.5" y2="364.41" stroke="#303030" stroke-width="0.8"/>
<line x1="330.7" y1="364.41" x2="328.7" y2="364.41" stroke="#303030" stroke-width="0.8"/>
<line x1="35.5" y1="353.57" x2="37.5" y2="353.57" stroke="#303030" stroke-width="0.8"/>
<line x1="330.7" y1="353.57" x2="328.7" y2="353.57" stroke="#303030" stroke-width="0.8"/>
<line x1="35.5" y1="342.72" x2="37.5" y2="342.72" stroke="#303030" stroke-width="0.8"/>
<line x1="330.7" y1="342.72" x2="328.7" y2="342.72" stroke="#303030" stroke-width="0.8"/>
<line x1="35.5" y1="331.88" x2="39.1" y2="331.88" stroke="#303030" stroke-width="0.8"/>
<line x1="330.7" y1="331.88" x2="327.1" y2="331.88" stroke="#303030" stroke-width="0.8"/>
<line x1="35.5" y1="321.03" x2="37.5" y2="321.03" stroke="#303030" stroke-width="0.8"/>
<line x1="330.7" y1="321.03" x2="328.7" y2="321.03" stroke="#303030" stroke-width="0.8"/>
<line x1="35.5" y1="310.19" x2="37.5" y2="310.19" stroke="#303030" stroke-width="0.8"/>
<line x1="330.7" y1="310.19" x2="328.7" y2="310.19" stroke="#303030" stroke-width="0.8"/>
<line x1="35.5" y1="299.34" x2="37.5" y2="299.34" stroke="#303030" stroke-width="0.8"/>
<line x1="330.7" y1="299.34" x2="328.7" y2="299.34" stroke="#303030" stroke-width="0.8"/>
<line x1="35.5" y1="288.5" x2="39.1" y2="288.5" stroke="#303030" stroke-width="0.8"/>
<line x1="330.7" y1="288.5" x2="327.1" y2="288.5" stroke="#303030" stroke-width="0.8"/>
<text x="30.6" y="509.4" text-anchor="end" font-size="12.2" textLength="14.18" lengthAdjust="spacingAndGlyphs"><tspan>0.0</tspan></text>
<text x="30.6" y="466.02" text-anchor="end" font-size="12.2" textLength="14.18" lengthAdjust="spacingAndGlyphs"><tspan>0.2</tspan></text>
<text x="30.6" y="422.64" text-anchor="end" font-size="12.2" textLength="14.18" lengthAdjust="spacingAndGlyphs"><tspan>0.4</tspan></text>
<text x="30.6" y="379.26" text-anchor="end" font-size="12.2" textLength="14.18" lengthAdjust="spacingAndGlyphs"><tspan>0.6</tspan></text>
<text x="30.6" y="335.88" text-anchor="end" font-size="12.2" textLength="14.18" lengthAdjust="spacingAndGlyphs"><tspan>0.8</tspan></text>
<text x="30.6" y="292.5" text-anchor="end" font-size="12.2" textLength="14.18" lengthAdjust="spacingAndGlyphs"><tspan>1.0</tspan></text>
<text x="101.38" y="519" text-anchor="middle" font-size="12.2"><tspan>10</tspan><tspan dx="0.4" dy="-4.6" font-size="8.5">1</tspan></text>
<text x="228.6" y="519" text-anchor="middle" font-size="12.2"><tspan>10</tspan><tspan dx="0.4" dy="-4.6" font-size="8.5">2</tspan></text>
<text x="182.8" y="534.1" text-anchor="middle" font-size="12.2" textLength="99.84" lengthAdjust="spacingAndGlyphs"><tspan>Latent dimension </tspan><tspan font-style="italic">d</tspan></text>
<text transform="translate(8.8,396.4) rotate(-90)" text-anchor="middle" font-size="12.2" textLength="38.04" lengthAdjust="spacingAndGlyphs"><tspan>Score </tspan><tspan font-style="italic">S</tspan></text>
<text x="0.6" y="272.3" text-anchor="start" font-size="14.8" textLength="15.44" lengthAdjust="spacingAndGlyphs"><tspan>(c)</tspan></text>
<line x1="255.2" y1="303.2" x2="279.2" y2="303.2" stroke="#e41a1c" stroke-width="1.5"/>
<circle cx="267.2" cy="303.2" r="4.1" fill="#e41a1c"/>
<text x="288" y="306.8" text-anchor="start" font-size="12.2"><tspan font-style="italic">n</tspan><tspan dx="3.4">=</tspan><tspan dx="3.4">12</tspan></text>
<line x1="255.2" y1="319.3" x2="279.2" y2="319.3" stroke="#377eb8" stroke-width="1.5"/>
<polygon points="267.2,314.8 262.7,323.8 271.7,323.8" fill="#377eb8"/>
<text x="288" y="322.9" text-anchor="start" font-size="12.2"><tspan font-style="italic">n</tspan><tspan dx="3.4">=</tspan><tspan dx="3.4">16</tspan></text>
<line x1="255.2" y1="335.4" x2="279.2" y2="335.4" stroke="#4daf4a" stroke-width="1.5"/>
<rect x="263.2" y="331.4" width="8" height="8" fill="#4daf4a"/>
<text x="288" y="339" text-anchor="start" font-size="12.2"><tspan font-style="italic">n</tspan><tspan dx="3.4">=</tspan><tspan dx="3.4">24</tspan></text>
<line x1="255.2" y1="351.5" x2="279.2" y2="351.5" stroke="#984ea3" stroke-width="1.5"/>
<polygon points="267.2,346.1 272.6,351.5 267.2,356.9 261.8,351.5" fill="#984ea3"/>
<text x="288" y="355.1" text-anchor="start" font-size="12.2"><tspan font-style="italic">n</tspan><tspan dx="3.4">=</tspan><tspan dx="3.4">32</tspan></text>
<line x1="255.2" y1="367.6" x2="279.2" y2="367.6" stroke="#ff7f00" stroke-width="1.5"/>
<polygon points="267.2,372.1 262.7,363.1 271.7,363.1" fill="#ff7f00"/>
<text x="288" y="371.2" text-anchor="start" font-size="12.2"><tspan font-style="italic">n</tspan><tspan dx="3.4">=</tspan><tspan dx="3.4">40</tspan></text>
<polygon points="404.95,396.52 417.28,390.23 427.36,389.36 443.25,383.94 460.85,378.51 474.17,373.96 488.06,369.62 501.6,362.9 516.28,356.39 530.78,372.87 545.6,372.01 559.84,390.44 573.82,384.59 588.07,386.1 602.56,383.94 616.49,392.18 630.71,388.92 644.95,389.79 659.12,387.62 673.03,391.74 673.03,398.25 659.12,394.13 644.95,396.3 630.71,395.43 616.49,398.69 602.56,390.44 588.07,392.61 573.82,391.09 559.84,398.25 545.6,381.55 530.78,385.89 516.28,371.57 501.6,378.08 488.06,382.63 474.17,384.8 460.85,387.19 443.25,391.74 427.36,395.87 417.28,396.73 404.95,401.72" fill="#e41a1c" fill-opacity="0.22" stroke="none"/>
<polygon points="404.95,412.13 417.28,413.65 427.36,414.09 443.25,413.22 460.85,412.78 474.17,415.6 488.06,415.6 501.6,416.9 516.28,414.74 530.78,418.86 545.6,414.95 559.84,414.95 573.82,418.42 588.07,415.6 602.56,410.61 616.49,413.43 630.71,410.61 644.95,412.78 659.12,411.27 673.03,408.45 673.03,414.95 659.12,417.77 644.95,419.29 630.71,417.12 616.49,419.94 602.56,417.12 588.07,422.11 573.82,424.93 559.84,421.46 545.6,421.46 530.78,425.36 516.28,421.24 501.6,423.41 488.06,422.11 474.17,422.11 460.85,419.29 443.25,419.72 427.36,420.59 417.28,420.16 404.95,418.64" fill="#377eb8" fill-opacity="0.22" stroke="none"/>
<polygon points="404.95,441.2 417.28,443.37 427.36,452.04 443.25,451.17 460.85,449.22 474.17,449.22 488.06,447.49 501.6,444.02 516.28,450.31 530.78,444.02 545.6,445.54 559.84,440.76 573.82,442.72 588.07,444.67 602.56,441.85 616.49,445.54 630.71,443.37 644.95,445.54 659.12,441.85 673.03,439.9 673.03,445.54 659.12,447.49 644.95,451.17 630.71,449.01 616.49,451.17 602.56,447.49 588.07,450.31 573.82,448.36 559.84,446.4 545.6,451.17 530.78,449.66 516.28,455.95 501.6,449.66 488.06,453.13 474.17,454.86 460.85,454.86 443.25,456.81 427.36,457.68 417.28,449.01 404.95,446.84" fill="#4daf4a" fill-opacity="0.22" stroke="none"/>
<polygon points="404.95,463.1 417.28,467.44 427.36,462.67 443.25,465.49 460.85,464.84 474.17,468.09 488.06,467.66 501.6,469.61 516.28,467.66 530.78,467.01 545.6,468.74 559.84,465.49 573.82,467.44 588.07,468.74 602.56,470.26 616.49,468.31 630.71,464.84 644.95,462.67 659.12,462.67 673.03,461.15 673.03,466.36 659.12,467.88 644.95,467.88 630.71,470.05 616.49,473.52 602.56,475.47 588.07,473.95 573.82,472.65 559.84,470.7 545.6,473.95 530.78,472.21 516.28,472.87 501.6,474.82 488.06,472.87 474.17,473.3 460.85,470.05 443.25,470.7 427.36,467.88 417.28,472.65 404.95,468.31" fill="#984ea3" fill-opacity="0.22" stroke="none"/>
<polygon points="404.95,477.2 417.28,477.2 427.36,477.2 443.25,477.85 460.85,478.72 474.17,477.2 488.06,476.77 501.6,477.85 516.28,478.72 530.78,477.2 545.6,478.07 559.84,477.42 573.82,478.72 588.07,478.72 602.56,476.55 616.49,478.72 630.71,477.42 644.95,477.42 659.12,477.42 673.03,476.77 673.03,480.67 659.12,481.32 644.95,481.32 630.71,481.32 616.49,482.63 602.56,480.46 588.07,482.63 573.82,482.63 559.84,481.32 545.6,481.97 530.78,481.11 516.28,482.63 501.6,481.76 488.06,480.67 474.17,481.11 460.85,482.63 443.25,481.76 427.36,481.11 417.28,481.11 404.95,481.11" fill="#ff7f00" fill-opacity="0.22" stroke="none"/>
<polyline points="404.95,399.12 417.28,393.48 427.36,392.61 443.25,387.84 460.85,382.85 474.17,379.38 488.06,376.13 501.6,370.49 516.28,363.98 530.78,379.38 545.6,376.78 559.84,394.35 573.82,387.84 588.07,389.36 602.56,387.19 616.49,395.43 630.71,392.18 644.95,393.05 659.12,390.88 673.03,395" fill="none" stroke="#e41a1c" stroke-width="1.6" stroke-linejoin="round"/>
<circle cx="404.95" cy="399.12" r="4.1" fill="#e41a1c"/>
<circle cx="417.28" cy="393.48" r="4.1" fill="#e41a1c"/>
<circle cx="427.36" cy="392.61" r="4.1" fill="#e41a1c"/>
<circle cx="443.25" cy="387.84" r="4.1" fill="#e41a1c"/>
<circle cx="460.85" cy="382.85" r="4.1" fill="#e41a1c"/>
<circle cx="474.17" cy="379.38" r="4.1" fill="#e41a1c"/>
<circle cx="488.06" cy="376.13" r="4.1" fill="#e41a1c"/>
<circle cx="501.6" cy="370.49" r="4.1" fill="#e41a1c"/>
<circle cx="516.28" cy="363.98" r="4.1" fill="#e41a1c"/>
<circle cx="530.78" cy="379.38" r="4.1" fill="#e41a1c"/>
<circle cx="545.6" cy="376.78" r="4.1" fill="#e41a1c"/>
<circle cx="559.84" cy="394.35" r="4.1" fill="#e41a1c"/>
<circle cx="573.82" cy="387.84" r="4.1" fill="#e41a1c"/>
<circle cx="588.07" cy="389.36" r="4.1" fill="#e41a1c"/>
<circle cx="602.56" cy="387.19" r="4.1" fill="#e41a1c"/>
<circle cx="616.49" cy="395.43" r="4.1" fill="#e41a1c"/>
<circle cx="630.71" cy="392.18" r="4.1" fill="#e41a1c"/>
<circle cx="644.95" cy="393.05" r="4.1" fill="#e41a1c"/>
<circle cx="659.12" cy="390.88" r="4.1" fill="#e41a1c"/>
<circle cx="673.03" cy="395" r="4.1" fill="#e41a1c"/>
<polyline points="404.95,415.39 417.28,416.9 427.36,417.34 443.25,416.47 460.85,416.04 474.17,418.86 488.06,418.86 501.6,420.16 516.28,417.99 530.78,422.11 545.6,418.21 559.84,418.21 573.82,421.68 588.07,418.86 602.56,413.87 616.49,416.69 630.71,413.87 644.95,416.04 659.12,414.52 673.03,411.7" fill="none" stroke="#377eb8" stroke-width="1.6" stroke-linejoin="round"/>
<polygon points="404.95,410.89 400.45,419.89 409.45,419.89" fill="#377eb8"/>
<polygon points="417.28,412.4 412.78,421.4 421.78,421.4" fill="#377eb8"/>
<polygon points="427.36,412.84 422.86,421.84 431.86,421.84" fill="#377eb8"/>
<polygon points="443.25,411.97 438.75,420.97 447.75,420.97" fill="#377eb8"/>
<polygon points="460.85,411.54 456.35,420.54 465.35,420.54" fill="#377eb8"/>
<polygon points="474.17,414.36 469.67,423.36 478.67,423.36" fill="#377eb8"/>
<polygon points="488.06,414.36 483.56,423.36 492.56,423.36" fill="#377eb8"/>
<polygon points="501.6,415.66 497.1,424.66 506.1,424.66" fill="#377eb8"/>
<polygon points="516.28,413.49 511.78,422.49 520.78,422.49" fill="#377eb8"/>
<polygon points="530.78,417.61 526.28,426.61 535.28,426.61" fill="#377eb8"/>
<polygon points="545.6,413.71 541.1,422.71 550.1,422.71" fill="#377eb8"/>
<polygon points="559.84,413.71 555.34,422.71 564.34,422.71" fill="#377eb8"/>
<polygon points="573.82,417.18 569.32,426.18 578.32,426.18" fill="#377eb8"/>
<polygon points="588.07,414.36 583.57,423.36 592.57,423.36" fill="#377eb8"/>
<polygon points="602.56,409.37 598.06,418.37 607.06,418.37" fill="#377eb8"/>
<polygon points="616.49,412.19 611.99,421.19 620.99,421.19" fill="#377eb8"/>
<polygon points="630.71,409.37 626.21,418.37 635.21,418.37" fill="#377eb8"/>
<polygon points="644.95,411.54 640.45,420.54 649.45,420.54" fill="#377eb8"/>
<polygon points="659.12,410.02 654.62,419.02 663.62,419.02" fill="#377eb8"/>
<polygon points="673.03,407.2 668.53,416.2 677.53,416.2" fill="#377eb8"/>
<polyline points="404.95,444.02 417.28,446.19 427.36,454.86 443.25,453.99 460.85,452.04 474.17,452.04 488.06,450.31 501.6,446.84 516.28,453.13 530.78,446.84 545.6,448.36 559.84,443.58 573.82,445.54 588.07,447.49 602.56,444.67 616.49,448.36 630.71,446.19 644.95,448.36 659.12,444.67 673.03,442.72" fill="none" stroke="#4daf4a" stroke-width="1.6" stroke-linejoin="round"/>
<rect x="400.95" y="440.02" width="8" height="8" fill="#4daf4a"/>
<rect x="413.28" y="442.19" width="8" height="8" fill="#4daf4a"/>
<rect x="423.36" y="450.86" width="8" height="8" fill="#4daf4a"/>
<rect x="439.25" y="449.99" width="8" height="8" fill="#4daf4a"/>
<rect x="456.85" y="448.04" width="8" height="8" fill="#4daf4a"/>
<rect x="470.17" y="448.04" width="8" height="8" fill="#4daf4a"/>
<rect x="484.06" y="446.31" width="8" height="8" fill="#4daf4a"/>
<rect x="497.6" y="442.84" width="8" height="8" fill="#4daf4a"/>
<rect x="512.28" y="449.13" width="8" height="8" fill="#4daf4a"/>
<rect x="526.78" y="442.84" width="8" height="8" fill="#4daf4a"/>
<rect x="541.6" y="444.36" width="8" height="8" fill="#4daf4a"/>
<rect x="555.84" y="439.58" width="8" height="8" fill="#4daf4a"/>
<rect x="569.82" y="441.54" width="8" height="8" fill="#4daf4a"/>
<rect x="584.07" y="443.49" width="8" height="8" fill="#4daf4a"/>
<rect x="598.56" y="440.67" width="8" height="8" fill="#4daf4a"/>
<rect x="612.49" y="444.36" width="8" height="8" fill="#4daf4a"/>
<rect x="626.71" y="442.19" width="8" height="8" fill="#4daf4a"/>
<rect x="640.95" y="444.36" width="8" height="8" fill="#4daf4a"/>
<rect x="655.12" y="440.67" width="8" height="8" fill="#4daf4a"/>
<rect x="669.03" y="438.72" width="8" height="8" fill="#4daf4a"/>
<polyline points="404.95,465.71 417.28,470.05 427.36,465.27 443.25,468.09 460.85,467.44 474.17,470.7 488.06,470.26 501.6,472.21 516.28,470.26 530.78,469.61 545.6,471.35 559.84,468.09 573.82,470.05 588.07,471.35 602.56,472.87 616.49,470.91 630.71,467.44 644.95,465.27 659.12,465.27 673.03,463.76" fill="none" stroke="#984ea3" stroke-width="1.6" stroke-linejoin="round"/>
<polygon points="404.95,460.31 410.35,465.71 404.95,471.11 399.55,465.71" fill="#984ea3"/>
<polygon points="417.28,464.65 422.68,470.05 417.28,475.45 411.88,470.05" fill="#984ea3"/>
<polygon points="427.36,459.87 432.76,465.27 427.36,470.67 421.96,465.27" fill="#984ea3"/>
<polygon points="443.25,462.69 448.65,468.09 443.25,473.49 437.85,468.09" fill="#984ea3"/>
<polygon points="460.85,462.04 466.25,467.44 460.85,472.84 455.45,467.44" fill="#984ea3"/>
<polygon points="474.17,465.3 479.57,470.7 474.17,476.1 468.77,470.7" fill="#984ea3"/>
<polygon points="488.06,464.86 493.46,470.26 488.06,475.66 482.66,470.26" fill="#984ea3"/>
<polygon points="501.6,466.81 507,472.21 501.6,477.61 496.2,472.21" fill="#984ea3"/>
<polygon points="516.28,464.86 521.68,470.26 516.28,475.66 510.88,470.26" fill="#984ea3"/>
<polygon points="530.78,464.21 536.18,469.61 530.78,475.01 525.38,469.61" fill="#984ea3"/>
<polygon points="545.6,465.95 551,471.35 545.6,476.75 540.2,471.35" fill="#984ea3"/>
<polygon points="559.84,462.69 565.24,468.09 559.84,473.49 554.44,468.09" fill="#984ea3"/>
<polygon points="573.82,464.65 579.22,470.05 573.82,475.45 568.42,470.05" fill="#984ea3"/>
<polygon points="588.07,465.95 593.47,471.35 588.07,476.75 582.67,471.35" fill="#984ea3"/>
<polygon points="602.56,467.47 607.96,472.87 602.56,478.26 597.16,472.87" fill="#984ea3"/>
<polygon points="616.49,465.51 621.89,470.91 616.49,476.31 611.09,470.91" fill="#984ea3"/>
<polygon points="630.71,462.04 636.11,467.44 630.71,472.84 625.31,467.44" fill="#984ea3"/>
<polygon points="644.95,459.87 650.35,465.27 644.95,470.67 639.55,465.27" fill="#984ea3"/>
<polygon points="659.12,459.87 664.52,465.27 659.12,470.67 653.72,465.27" fill="#984ea3"/>
<polygon points="673.03,458.36 678.43,463.76 673.03,469.16 667.63,463.76" fill="#984ea3"/>
<polyline points="404.95,479.16 417.28,479.16 427.36,479.16 443.25,479.81 460.85,480.67 474.17,479.16 488.06,478.72 501.6,479.81 516.28,480.67 530.78,479.16 545.6,480.02 559.84,479.37 573.82,480.67 588.07,480.67 602.56,478.5 616.49,480.67 630.71,479.37 644.95,479.37 659.12,479.37 673.03,478.72" fill="none" stroke="#ff7f00" stroke-width="1.6" stroke-linejoin="round"/>
<polygon points="404.95,483.66 400.45,474.66 409.45,474.66" fill="#ff7f00"/>
<polygon points="417.28,483.66 412.78,474.66 421.78,474.66" fill="#ff7f00"/>
<polygon points="427.36,483.66 422.86,474.66 431.86,474.66" fill="#ff7f00"/>
<polygon points="443.25,484.31 438.75,475.31 447.75,475.31" fill="#ff7f00"/>
<polygon points="460.85,485.17 456.35,476.17 465.35,476.17" fill="#ff7f00"/>
<polygon points="474.17,483.66 469.67,474.66 478.67,474.66" fill="#ff7f00"/>
<polygon points="488.06,483.22 483.56,474.22 492.56,474.22" fill="#ff7f00"/>
<polygon points="501.6,484.31 497.1,475.31 506.1,475.31" fill="#ff7f00"/>
<polygon points="516.28,485.17 511.78,476.17 520.78,476.17" fill="#ff7f00"/>
<polygon points="530.78,483.66 526.28,474.66 535.28,474.66" fill="#ff7f00"/>
<polygon points="545.6,484.52 541.1,475.52 550.1,475.52" fill="#ff7f00"/>
<polygon points="559.84,483.87 555.34,474.87 564.34,474.87" fill="#ff7f00"/>
<polygon points="573.82,485.17 569.32,476.17 578.32,476.17" fill="#ff7f00"/>
<polygon points="588.07,485.17 583.57,476.17 592.57,476.17" fill="#ff7f00"/>
<polygon points="602.56,483 598.06,474 607.06,474" fill="#ff7f00"/>
<polygon points="616.49,485.17 611.99,476.17 620.99,476.17" fill="#ff7f00"/>
<polygon points="630.71,483.87 626.21,474.87 635.21,474.87" fill="#ff7f00"/>
<polygon points="644.95,483.87 640.45,474.87 649.45,474.87" fill="#ff7f00"/>
<polygon points="659.12,483.87 654.62,474.87 663.62,474.87" fill="#ff7f00"/>
<polygon points="673.03,483.22 668.53,474.22 677.53,474.22" fill="#ff7f00"/>
<rect x="389.2" y="288.5" width="295.2" height="216.9" fill="none" stroke="#303030" stroke-width="1"/>
<line x1="404.95" y1="505.4" x2="404.95" y2="503.4" stroke="#303030" stroke-width="0.8"/>
<line x1="404.95" y1="288.5" x2="404.95" y2="290.5" stroke="#303030" stroke-width="0.8"/>
<line x1="417.28" y1="505.4" x2="417.28" y2="503.4" stroke="#303030" stroke-width="0.8"/>
<line x1="417.28" y1="288.5" x2="417.28" y2="290.5" stroke="#303030" stroke-width="0.8"/>
<line x1="427.36" y1="505.4" x2="427.36" y2="503.4" stroke="#303030" stroke-width="0.8"/>
<line x1="427.36" y1="288.5" x2="427.36" y2="290.5" stroke="#303030" stroke-width="0.8"/>
<line x1="435.87" y1="505.4" x2="435.87" y2="503.4" stroke="#303030" stroke-width="0.8"/>
<line x1="435.87" y1="288.5" x2="435.87" y2="290.5" stroke="#303030" stroke-width="0.8"/>
<line x1="443.25" y1="505.4" x2="443.25" y2="503.4" stroke="#303030" stroke-width="0.8"/>
<line x1="443.25" y1="288.5" x2="443.25" y2="290.5" stroke="#303030" stroke-width="0.8"/>
<line x1="449.76" y1="505.4" x2="449.76" y2="503.4" stroke="#303030" stroke-width="0.8"/>
<line x1="449.76" y1="288.5" x2="449.76" y2="290.5" stroke="#303030" stroke-width="0.8"/>
<line x1="455.58" y1="505.4" x2="455.58" y2="501.8" stroke="#303030" stroke-width="0.8"/>
<line x1="455.58" y1="288.5" x2="455.58" y2="292.1" stroke="#303030" stroke-width="0.8"/>
<line x1="493.88" y1="505.4" x2="493.88" y2="503.4" stroke="#303030" stroke-width="0.8"/>
<line x1="493.88" y1="288.5" x2="493.88" y2="290.5" stroke="#303030" stroke-width="0.8"/>
<line x1="516.28" y1="505.4" x2="516.28" y2="503.4" stroke="#303030" stroke-width="0.8"/>
<line x1="516.28" y1="288.5" x2="516.28" y2="290.5" stroke="#303030" stroke-width="0.8"/>
<line x1="532.17" y1="505.4" x2="532.17" y2="503.4" stroke="#303030" stroke-width="0.8"/>
<line x1="532.17" y1="288.5" x2="532.17" y2="290.5" stroke="#303030" stroke-width="0.8"/>
<line x1="544.5" y1="505.4" x2="544.5" y2="503.4" stroke="#303030" stroke-width="0.8"/>
<line x1="544.5" y1="288.5" x2="544.5" y2="290.5" stroke="#303030" stroke-width="0.8"/>
<line x1="554.58" y1="505.4" x2="554.58" y2="503.4" stroke="#303030" stroke-width="0.8"/>
<line x1="554.58" y1="288.5" x2="554.58" y2="290.5" stroke="#303030" stroke-width="0.8"/>
<line x1="563.09" y1="505.4" x2="563.09" y2="503.4" stroke="#303030" stroke-width="0.8"/>
<line x1="563.09" y1="288.5" x2="563.09" y2="290.5" stroke="#303030" stroke-width="0.8"/>
<line x1="570.47" y1="505.4" x2="570.47" y2="503.4" stroke="#303030" stroke-width="0.8"/>
<line x1="570.47" y1="288.5" x2="570.47" y2="290.5" stroke="#303030" stroke-width="0.8"/>
<line x1="576.98" y1="505.4" x2="576.98" y2="503.4" stroke="#303030" stroke-width="0.8"/>
<line x1="576.98" y1="288.5" x2="576.98" y2="290.5" stroke="#303030" stroke-width="0.8"/>
<line x1="582.8" y1="505.4" x2="582.8" y2="501.8" stroke="#303030" stroke-width="0.8"/>
<line x1="582.8" y1="288.5" x2="582.8" y2="292.1" stroke="#303030" stroke-width="0.8"/>
<line x1="621.1" y1="505.4" x2="621.1" y2="503.4" stroke="#303030" stroke-width="0.8"/>
<line x1="621.1" y1="288.5" x2="621.1" y2="290.5" stroke="#303030" stroke-width="0.8"/>
<line x1="643.5" y1="505.4" x2="643.5" y2="503.4" stroke="#303030" stroke-width="0.8"/>
<line x1="643.5" y1="288.5" x2="643.5" y2="290.5" stroke="#303030" stroke-width="0.8"/>
<line x1="659.39" y1="505.4" x2="659.39" y2="503.4" stroke="#303030" stroke-width="0.8"/>
<line x1="659.39" y1="288.5" x2="659.39" y2="290.5" stroke="#303030" stroke-width="0.8"/>
<line x1="671.72" y1="505.4" x2="671.72" y2="503.4" stroke="#303030" stroke-width="0.8"/>
<line x1="671.72" y1="288.5" x2="671.72" y2="290.5" stroke="#303030" stroke-width="0.8"/>
<line x1="681.8" y1="505.4" x2="681.8" y2="503.4" stroke="#303030" stroke-width="0.8"/>
<line x1="681.8" y1="288.5" x2="681.8" y2="290.5" stroke="#303030" stroke-width="0.8"/>
<line x1="389.2" y1="505.4" x2="392.8" y2="505.4" stroke="#303030" stroke-width="0.8"/>
<line x1="684.4" y1="505.4" x2="680.8" y2="505.4" stroke="#303030" stroke-width="0.8"/>
<line x1="389.2" y1="494.55" x2="391.2" y2="494.55" stroke="#303030" stroke-width="0.8"/>
<line x1="684.4" y1="494.55" x2="682.4" y2="494.55" stroke="#303030" stroke-width="0.8"/>
<line x1="389.2" y1="483.71" x2="391.2" y2="483.71" stroke="#303030" stroke-width="0.8"/>
<line x1="684.4" y1="483.71" x2="682.4" y2="483.71" stroke="#303030" stroke-width="0.8"/>
<line x1="389.2" y1="472.86" x2="391.2" y2="472.86" stroke="#303030" stroke-width="0.8"/>
<line x1="684.4" y1="472.86" x2="682.4" y2="472.86" stroke="#303030" stroke-width="0.8"/>
<line x1="389.2" y1="462.02" x2="392.8" y2="462.02" stroke="#303030" stroke-width="0.8"/>
<line x1="684.4" y1="462.02" x2="680.8" y2="462.02" stroke="#303030" stroke-width="0.8"/>
<line x1="389.2" y1="451.17" x2="391.2" y2="451.17" stroke="#303030" stroke-width="0.8"/>
<line x1="684.4" y1="451.17" x2="682.4" y2="451.17" stroke="#303030" stroke-width="0.8"/>
<line x1="389.2" y1="440.33" x2="391.2" y2="440.33" stroke="#303030" stroke-width="0.8"/>
<line x1="684.4" y1="440.33" x2="682.4" y2="440.33" stroke="#303030" stroke-width="0.8"/>
<line x1="389.2" y1="429.48" x2="391.2" y2="429.48" stroke="#303030" stroke-width="0.8"/>
<line x1="684.4" y1="429.48" x2="682.4" y2="429.48" stroke="#303030" stroke-width="0.8"/>
<line x1="389.2" y1="418.64" x2="392.8" y2="418.64" stroke="#303030" stroke-width="0.8"/>
<line x1="684.4" y1="418.64" x2="680.8" y2="418.64" stroke="#303030" stroke-width="0.8"/>
<line x1="389.2" y1="407.79" x2="391.2" y2="407.79" stroke="#303030" stroke-width="0.8"/>
<line x1="684.4" y1="407.79" x2="682.4" y2="407.79" stroke="#303030" stroke-width="0.8"/>
<line x1="389.2" y1="396.95" x2="391.2" y2="396.95" stroke="#303030" stroke-width="0.8"/>
<line x1="684.4" y1="396.95" x2="682.4" y2="396.95" stroke="#303030" stroke-width="0.8"/>
<line x1="389.2" y1="386.1" x2="391.2" y2="386.1" stroke="#303030" stroke-width="0.8"/>
<line x1="684.4" y1="386.1" x2="682.4" y2="386.1" stroke="#303030" stroke-width="0.8"/>
<line x1="389.2" y1="375.26" x2="392.8" y2="375.26" stroke="#303030" stroke-width="0.8"/>
<line x1="684.4" y1="375.26" x2="680.8" y2="375.26" stroke="#303030" stroke-width="0.8"/>
<line x1="389.2" y1="364.41" x2="391.2" y2="364.41" stroke="#303030" stroke-width="0.8"/>
<line x1="684.4" y1="364.41" x2="682.4" y2="364.41" stroke="#303030" stroke-width="0.8"/>
<line x1="389.2" y1="353.57" x2="391.2" y2="353.57" stroke="#303030" stroke-width="0.8"/>
<line x1="684.4" y1="353.57" x2="682.4" y2="353.57" stroke="#303030" stroke-width="0.8"/>
<line x1="389.2" y1="342.72" x2="391.2" y2="342.72" stroke="#303030" stroke-width="0.8"/>
<line x1="684.4" y1="342.72" x2="682.4" y2="342.72" stroke="#303030" stroke-width="0.8"/>
<line x1="389.2" y1="331.88" x2="392.8" y2="331.88" stroke="#303030" stroke-width="0.8"/>
<line x1="684.4" y1="331.88" x2="680.8" y2="331.88" stroke="#303030" stroke-width="0.8"/>
<line x1="389.2" y1="321.03" x2="391.2" y2="321.03" stroke="#303030" stroke-width="0.8"/>
<line x1="684.4" y1="321.03" x2="682.4" y2="321.03" stroke="#303030" stroke-width="0.8"/>
<line x1="389.2" y1="310.19" x2="391.2" y2="310.19" stroke="#303030" stroke-width="0.8"/>
<line x1="684.4" y1="310.19" x2="682.4" y2="310.19" stroke="#303030" stroke-width="0.8"/>
<line x1="389.2" y1="299.34" x2="391.2" y2="299.34" stroke="#303030" stroke-width="0.8"/>
<line x1="684.4" y1="299.34" x2="682.4" y2="299.34" stroke="#303030" stroke-width="0.8"/>
<line x1="389.2" y1="288.5" x2="392.8" y2="288.5" stroke="#303030" stroke-width="0.8"/>
<line x1="684.4" y1="288.5" x2="680.8" y2="288.5" stroke="#303030" stroke-width="0.8"/>
<text x="384.3" y="509.4" text-anchor="end" font-size="12.2" textLength="14.18" lengthAdjust="spacingAndGlyphs"><tspan>0.0</tspan></text>
<text x="384.3" y="466.02" text-anchor="end" font-size="12.2" textLength="14.18" lengthAdjust="spacingAndGlyphs"><tspan>0.2</tspan></text>
<text x="384.3" y="422.64" text-anchor="end" font-size="12.2" textLength="14.18" lengthAdjust="spacingAndGlyphs"><tspan>0.4</tspan></text>
<text x="384.3" y="379.26" text-anchor="end" font-size="12.2" textLength="14.18" lengthAdjust="spacingAndGlyphs"><tspan>0.6</tspan></text>
<text x="384.3" y="335.88" text-anchor="end" font-size="12.2" textLength="14.18" lengthAdjust="spacingAndGlyphs"><tspan>0.8</tspan></text>
<text x="384.3" y="292.5" text-anchor="end" font-size="12.2" textLength="14.18" lengthAdjust="spacingAndGlyphs"><tspan>1.0</tspan></text>
<text x="455.08" y="519" text-anchor="middle" font-size="12.2"><tspan>10</tspan><tspan dx="0.4" dy="-4.6" font-size="8.5">1</tspan></text>
<text x="582.3" y="519" text-anchor="middle" font-size="12.2"><tspan>10</tspan><tspan dx="0.4" dy="-4.6" font-size="8.5">2</tspan></text>
<text x="536.5" y="534.1" text-anchor="middle" font-size="12.2" textLength="99.84" lengthAdjust="spacingAndGlyphs"><tspan>Latent dimension </tspan><tspan font-style="italic">d</tspan></text>
<text transform="translate(362.4,396.4) rotate(-90)" text-anchor="middle" font-size="12.2" textLength="38.04" lengthAdjust="spacingAndGlyphs"><tspan>Score </tspan><tspan font-style="italic">S</tspan></text>
<text x="346.6" y="272.3" text-anchor="start" font-size="14.8" textLength="16.22" lengthAdjust="spacingAndGlyphs"><tspan>(d)</tspan></text>
<line x1="608.9" y1="303.2" x2="632.9" y2="303.2" stroke="#e41a1c" stroke-width="1.5"/>
<circle cx="620.9" cy="303.2" r="4.1" fill="#e41a1c"/>
<text x="641.7" y="306.8" text-anchor="start" font-size="12.2"><tspan font-style="italic">n</tspan><tspan dx="3.4">=</tspan><tspan dx="3.4">12</tspan></text>
<line x1="608.9" y1="319.3" x2="632.9" y2="319.3" stroke="#377eb8" stroke-width="1.5"/>
<polygon points="620.9,314.8 616.4,323.8 625.4,323.8" fill="#377eb8"/>
<text x="641.7" y="322.9" text-anchor="start" font-size="12.2"><tspan font-style="italic">n</tspan><tspan dx="3.4">=</tspan><tspan dx="3.4">16</tspan></text>
<line x1="608.9" y1="335.4" x2="632.9" y2="335.4" stroke="#4daf4a" stroke-width="1.5"/>
<rect x="616.9" y="331.4" width="8" height="8" fill="#4daf4a"/>
<text x="641.7" y="339" text-anchor="start" font-size="12.2"><tspan font-style="italic">n</tspan><tspan dx="3.4">=</tspan><tspan dx="3.4">24</tspan></text>
<line x1="608.9" y1="351.5" x2="632.9" y2="351.5" stroke="#984ea3" stroke-width="1.5"/>
<polygon points="620.9,346.1 626.3,351.5 620.9,356.9 615.5,351.5" fill="#984ea3"/>
<text x="641.7" y="355.1" text-anchor="start" font-size="12.2"><tspan font-style="italic">n</tspan><tspan dx="3.4">=</tspan><tspan dx="3.4">32</tspan></text>
<line x1="608.9" y1="367.6" x2="632.9" y2="367.6" stroke="#ff7f00" stroke-width="1.5"/>
<polygon points="620.9,372.1 616.4,363.1 625.4,363.1" fill="#ff7f00"/>
<text x="641.7" y="371.2" text-anchor="start" font-size="12.2"><tspan font-style="italic">n</tspan><tspan dx="3.4">=</tspan><tspan dx="3.4">40</tspan></text>
</svg></body></html>
